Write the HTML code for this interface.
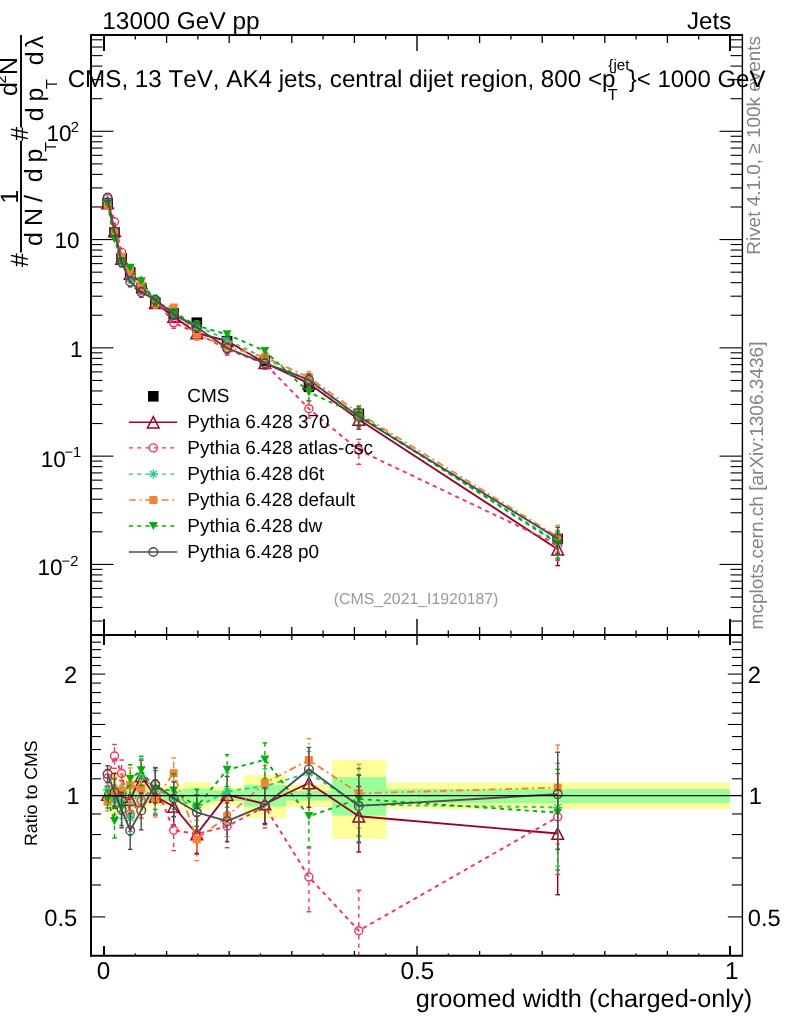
<!DOCTYPE html>
<html lang="en">
<head>
<meta charset="utf-8">
<title>CMS_2021_I1920187 groomed width (charged-only)</title>
<style>
html, body { margin: 0; padding: 0; background: #fff; }
body { width: 786px; height: 1024px; overflow: hidden; }
svg { display: block; font-family: "Liberation Sans", sans-serif; font-kerning: none; font-variant-ligatures: none; text-rendering: geometricPrecision; }
</style>
</head>
<body>
<svg width="786" height="1024" viewBox="0 0 786 1024">
<rect x="0" y="0" width="786" height="1024" fill="#fff"/>
<g id="bands">
<rect x="104.00" y="786.00" width="6.80" height="20.00" fill="#FFFF99"/>
<rect x="110.80" y="771.00" width="7.20" height="49.00" fill="#FFFF99"/>
<rect x="118.00" y="785.00" width="7.20" height="22.00" fill="#FFFF99"/>
<rect x="125.20" y="774.00" width="10.40" height="44.00" fill="#FFFF99"/>
<rect x="135.60" y="780.00" width="11.70" height="32.00" fill="#FFFF99"/>
<rect x="147.30" y="786.00" width="17.00" height="20.00" fill="#FFFF99"/>
<rect x="164.30" y="785.90" width="18.70" height="19.60" fill="#FFFF99"/>
<rect x="183.00" y="782.00" width="27.60" height="28.00" fill="#FFFF99"/>
<rect x="210.60" y="786.80" width="33.30" height="18.20" fill="#FFFF99"/>
<rect x="243.90" y="775.00" width="42.30" height="43.00" fill="#FFFF99"/>
<rect x="286.20" y="784.80" width="45.80" height="22.20" fill="#FFFF99"/>
<rect x="332.00" y="760.00" width="54.30" height="79.00" fill="#FFFF99"/>
<rect x="386.30" y="782.60" width="343.70" height="26.30" fill="#FFFF99"/>
<rect x="104.00" y="791.00" width="6.80" height="9.50" fill="#99FF99"/>
<rect x="110.80" y="784.00" width="7.20" height="24.00" fill="#99FF99"/>
<rect x="118.00" y="790.00" width="7.20" height="11.50" fill="#99FF99"/>
<rect x="125.20" y="785.00" width="10.40" height="22.00" fill="#99FF99"/>
<rect x="135.60" y="788.00" width="11.70" height="15.50" fill="#99FF99"/>
<rect x="147.30" y="791.00" width="17.00" height="9.50" fill="#99FF99"/>
<rect x="164.30" y="790.40" width="18.70" height="10.60" fill="#99FF99"/>
<rect x="183.00" y="788.60" width="27.60" height="14.20" fill="#99FF99"/>
<rect x="210.60" y="790.40" width="33.30" height="10.60" fill="#99FF99"/>
<rect x="243.90" y="784.80" width="42.30" height="21.80" fill="#99FF99"/>
<rect x="286.20" y="791.00" width="45.80" height="9.60" fill="#99FF99"/>
<rect x="332.00" y="777.20" width="54.30" height="38.50" fill="#99FF99"/>
<rect x="386.30" y="789.20" width="343.70" height="13.80" fill="#99FF99"/>
</g>
<g id="frame" stroke-linecap="butt">
<line x1="91.00" y1="34.00" x2="91.00" y2="956.80" stroke="#000" stroke-width="2" />
<line x1="90.00" y1="35.00" x2="743.10" y2="35.00" stroke="#000" stroke-width="2" />
<line x1="90.00" y1="955.80" x2="743.10" y2="955.80" stroke="#000" stroke-width="2" />
<line x1="742.40" y1="35.00" x2="742.40" y2="956.00" stroke="#000" stroke-width="1.4" />
<line x1="91.00" y1="635.00" x2="742.40" y2="635.00" stroke="#000" stroke-width="2" />
<line x1="104.00" y1="35.00" x2="104.00" y2="51.00" stroke="#000" stroke-width="2" />
<line x1="135.30" y1="35.00" x2="135.30" y2="39.50" stroke="#000" stroke-width="1.3" />
<line x1="166.60" y1="35.00" x2="166.60" y2="43.00" stroke="#000" stroke-width="1.3" />
<line x1="197.90" y1="35.00" x2="197.90" y2="39.50" stroke="#000" stroke-width="1.3" />
<line x1="229.20" y1="35.00" x2="229.20" y2="43.00" stroke="#000" stroke-width="1.3" />
<line x1="260.50" y1="35.00" x2="260.50" y2="39.50" stroke="#000" stroke-width="1.3" />
<line x1="291.80" y1="35.00" x2="291.80" y2="43.00" stroke="#000" stroke-width="1.3" />
<line x1="323.10" y1="35.00" x2="323.10" y2="39.50" stroke="#000" stroke-width="1.3" />
<line x1="354.40" y1="35.00" x2="354.40" y2="43.00" stroke="#000" stroke-width="1.3" />
<line x1="385.70" y1="35.00" x2="385.70" y2="39.50" stroke="#000" stroke-width="1.3" />
<line x1="417.00" y1="35.00" x2="417.00" y2="51.00" stroke="#000" stroke-width="1.4" />
<line x1="448.30" y1="35.00" x2="448.30" y2="39.50" stroke="#000" stroke-width="1.3" />
<line x1="479.60" y1="35.00" x2="479.60" y2="43.00" stroke="#000" stroke-width="1.3" />
<line x1="510.90" y1="35.00" x2="510.90" y2="39.50" stroke="#000" stroke-width="1.3" />
<line x1="542.20" y1="35.00" x2="542.20" y2="43.00" stroke="#000" stroke-width="1.3" />
<line x1="573.50" y1="35.00" x2="573.50" y2="39.50" stroke="#000" stroke-width="1.3" />
<line x1="604.80" y1="35.00" x2="604.80" y2="43.00" stroke="#000" stroke-width="1.3" />
<line x1="636.10" y1="35.00" x2="636.10" y2="39.50" stroke="#000" stroke-width="1.3" />
<line x1="667.40" y1="35.00" x2="667.40" y2="43.00" stroke="#000" stroke-width="1.3" />
<line x1="698.70" y1="35.00" x2="698.70" y2="39.50" stroke="#000" stroke-width="1.3" />
<line x1="730.00" y1="35.00" x2="730.00" y2="51.00" stroke="#000" stroke-width="2" />
<line x1="104.00" y1="635.00" x2="104.00" y2="619.00" stroke="#000" stroke-width="2" />
<line x1="135.30" y1="635.00" x2="135.30" y2="630.50" stroke="#000" stroke-width="1.3" />
<line x1="166.60" y1="635.00" x2="166.60" y2="627.00" stroke="#000" stroke-width="1.3" />
<line x1="197.90" y1="635.00" x2="197.90" y2="630.50" stroke="#000" stroke-width="1.3" />
<line x1="229.20" y1="635.00" x2="229.20" y2="627.00" stroke="#000" stroke-width="1.3" />
<line x1="260.50" y1="635.00" x2="260.50" y2="630.50" stroke="#000" stroke-width="1.3" />
<line x1="291.80" y1="635.00" x2="291.80" y2="627.00" stroke="#000" stroke-width="1.3" />
<line x1="323.10" y1="635.00" x2="323.10" y2="630.50" stroke="#000" stroke-width="1.3" />
<line x1="354.40" y1="635.00" x2="354.40" y2="627.00" stroke="#000" stroke-width="1.3" />
<line x1="385.70" y1="635.00" x2="385.70" y2="630.50" stroke="#000" stroke-width="1.3" />
<line x1="417.00" y1="635.00" x2="417.00" y2="619.00" stroke="#000" stroke-width="1.4" />
<line x1="448.30" y1="635.00" x2="448.30" y2="630.50" stroke="#000" stroke-width="1.3" />
<line x1="479.60" y1="635.00" x2="479.60" y2="627.00" stroke="#000" stroke-width="1.3" />
<line x1="510.90" y1="635.00" x2="510.90" y2="630.50" stroke="#000" stroke-width="1.3" />
<line x1="542.20" y1="635.00" x2="542.20" y2="627.00" stroke="#000" stroke-width="1.3" />
<line x1="573.50" y1="635.00" x2="573.50" y2="630.50" stroke="#000" stroke-width="1.3" />
<line x1="604.80" y1="635.00" x2="604.80" y2="627.00" stroke="#000" stroke-width="1.3" />
<line x1="636.10" y1="635.00" x2="636.10" y2="630.50" stroke="#000" stroke-width="1.3" />
<line x1="667.40" y1="635.00" x2="667.40" y2="627.00" stroke="#000" stroke-width="1.3" />
<line x1="698.70" y1="635.00" x2="698.70" y2="630.50" stroke="#000" stroke-width="1.3" />
<line x1="730.00" y1="635.00" x2="730.00" y2="619.00" stroke="#000" stroke-width="2" />
<line x1="104.00" y1="635.00" x2="104.00" y2="645.00" stroke="#000" stroke-width="2" />
<line x1="135.30" y1="635.00" x2="135.30" y2="637.50" stroke="#000" stroke-width="1.3" />
<line x1="166.60" y1="635.00" x2="166.60" y2="640.00" stroke="#000" stroke-width="1.3" />
<line x1="197.90" y1="635.00" x2="197.90" y2="637.50" stroke="#000" stroke-width="1.3" />
<line x1="229.20" y1="635.00" x2="229.20" y2="640.00" stroke="#000" stroke-width="1.3" />
<line x1="260.50" y1="635.00" x2="260.50" y2="637.50" stroke="#000" stroke-width="1.3" />
<line x1="291.80" y1="635.00" x2="291.80" y2="640.00" stroke="#000" stroke-width="1.3" />
<line x1="323.10" y1="635.00" x2="323.10" y2="637.50" stroke="#000" stroke-width="1.3" />
<line x1="354.40" y1="635.00" x2="354.40" y2="640.00" stroke="#000" stroke-width="1.3" />
<line x1="385.70" y1="635.00" x2="385.70" y2="637.50" stroke="#000" stroke-width="1.3" />
<line x1="417.00" y1="635.00" x2="417.00" y2="645.00" stroke="#000" stroke-width="1.4" />
<line x1="448.30" y1="635.00" x2="448.30" y2="637.50" stroke="#000" stroke-width="1.3" />
<line x1="479.60" y1="635.00" x2="479.60" y2="640.00" stroke="#000" stroke-width="1.3" />
<line x1="510.90" y1="635.00" x2="510.90" y2="637.50" stroke="#000" stroke-width="1.3" />
<line x1="542.20" y1="635.00" x2="542.20" y2="640.00" stroke="#000" stroke-width="1.3" />
<line x1="573.50" y1="635.00" x2="573.50" y2="637.50" stroke="#000" stroke-width="1.3" />
<line x1="604.80" y1="635.00" x2="604.80" y2="640.00" stroke="#000" stroke-width="1.3" />
<line x1="636.10" y1="635.00" x2="636.10" y2="637.50" stroke="#000" stroke-width="1.3" />
<line x1="667.40" y1="635.00" x2="667.40" y2="640.00" stroke="#000" stroke-width="1.3" />
<line x1="698.70" y1="635.00" x2="698.70" y2="637.50" stroke="#000" stroke-width="1.3" />
<line x1="730.00" y1="635.00" x2="730.00" y2="645.00" stroke="#000" stroke-width="2" />
<line x1="104.00" y1="956.00" x2="104.00" y2="946.00" stroke="#000" stroke-width="2" />
<line x1="135.30" y1="956.00" x2="135.30" y2="953.50" stroke="#000" stroke-width="1.3" />
<line x1="166.60" y1="956.00" x2="166.60" y2="951.00" stroke="#000" stroke-width="1.3" />
<line x1="197.90" y1="956.00" x2="197.90" y2="953.50" stroke="#000" stroke-width="1.3" />
<line x1="229.20" y1="956.00" x2="229.20" y2="951.00" stroke="#000" stroke-width="1.3" />
<line x1="260.50" y1="956.00" x2="260.50" y2="953.50" stroke="#000" stroke-width="1.3" />
<line x1="291.80" y1="956.00" x2="291.80" y2="951.00" stroke="#000" stroke-width="1.3" />
<line x1="323.10" y1="956.00" x2="323.10" y2="953.50" stroke="#000" stroke-width="1.3" />
<line x1="354.40" y1="956.00" x2="354.40" y2="951.00" stroke="#000" stroke-width="1.3" />
<line x1="385.70" y1="956.00" x2="385.70" y2="953.50" stroke="#000" stroke-width="1.3" />
<line x1="417.00" y1="956.00" x2="417.00" y2="946.00" stroke="#000" stroke-width="1.4" />
<line x1="448.30" y1="956.00" x2="448.30" y2="953.50" stroke="#000" stroke-width="1.3" />
<line x1="479.60" y1="956.00" x2="479.60" y2="951.00" stroke="#000" stroke-width="1.3" />
<line x1="510.90" y1="956.00" x2="510.90" y2="953.50" stroke="#000" stroke-width="1.3" />
<line x1="542.20" y1="956.00" x2="542.20" y2="951.00" stroke="#000" stroke-width="1.3" />
<line x1="573.50" y1="956.00" x2="573.50" y2="953.50" stroke="#000" stroke-width="1.3" />
<line x1="604.80" y1="956.00" x2="604.80" y2="951.00" stroke="#000" stroke-width="1.3" />
<line x1="636.10" y1="956.00" x2="636.10" y2="953.50" stroke="#000" stroke-width="1.3" />
<line x1="667.40" y1="956.00" x2="667.40" y2="951.00" stroke="#000" stroke-width="1.3" />
<line x1="698.70" y1="956.00" x2="698.70" y2="953.50" stroke="#000" stroke-width="1.3" />
<line x1="730.00" y1="956.00" x2="730.00" y2="946.00" stroke="#000" stroke-width="2" />
<line x1="91.00" y1="621.04" x2="102.50" y2="621.04" stroke="#000" stroke-width="1.1" />
<line x1="742.00" y1="621.04" x2="730.50" y2="621.04" stroke="#000" stroke-width="1.1" />
<line x1="91.00" y1="607.51" x2="102.50" y2="607.51" stroke="#000" stroke-width="1.1" />
<line x1="742.00" y1="607.51" x2="730.50" y2="607.51" stroke="#000" stroke-width="1.1" />
<line x1="91.00" y1="597.02" x2="102.50" y2="597.02" stroke="#000" stroke-width="1.1" />
<line x1="742.00" y1="597.02" x2="730.50" y2="597.02" stroke="#000" stroke-width="1.1" />
<line x1="91.00" y1="588.44" x2="102.50" y2="588.44" stroke="#000" stroke-width="1.1" />
<line x1="742.00" y1="588.44" x2="730.50" y2="588.44" stroke="#000" stroke-width="1.1" />
<line x1="91.00" y1="581.19" x2="102.50" y2="581.19" stroke="#000" stroke-width="1.1" />
<line x1="742.00" y1="581.19" x2="730.50" y2="581.19" stroke="#000" stroke-width="1.1" />
<line x1="91.00" y1="574.91" x2="102.50" y2="574.91" stroke="#000" stroke-width="1.1" />
<line x1="742.00" y1="574.91" x2="730.50" y2="574.91" stroke="#000" stroke-width="1.1" />
<line x1="91.00" y1="569.37" x2="102.50" y2="569.37" stroke="#000" stroke-width="1.1" />
<line x1="742.00" y1="569.37" x2="730.50" y2="569.37" stroke="#000" stroke-width="1.1" />
<line x1="91.00" y1="564.42" x2="113.50" y2="564.42" stroke="#000" stroke-width="1.1" />
<line x1="742.00" y1="564.42" x2="719.50" y2="564.42" stroke="#000" stroke-width="1.1" />
<line x1="91.00" y1="531.82" x2="102.50" y2="531.82" stroke="#000" stroke-width="1.1" />
<line x1="742.00" y1="531.82" x2="730.50" y2="531.82" stroke="#000" stroke-width="1.1" />
<line x1="91.00" y1="512.76" x2="102.50" y2="512.76" stroke="#000" stroke-width="1.1" />
<line x1="742.00" y1="512.76" x2="730.50" y2="512.76" stroke="#000" stroke-width="1.1" />
<line x1="91.00" y1="499.23" x2="102.50" y2="499.23" stroke="#000" stroke-width="1.1" />
<line x1="742.00" y1="499.23" x2="730.50" y2="499.23" stroke="#000" stroke-width="1.1" />
<line x1="91.00" y1="488.74" x2="102.50" y2="488.74" stroke="#000" stroke-width="1.1" />
<line x1="742.00" y1="488.74" x2="730.50" y2="488.74" stroke="#000" stroke-width="1.1" />
<line x1="91.00" y1="480.16" x2="102.50" y2="480.16" stroke="#000" stroke-width="1.1" />
<line x1="742.00" y1="480.16" x2="730.50" y2="480.16" stroke="#000" stroke-width="1.1" />
<line x1="91.00" y1="472.91" x2="102.50" y2="472.91" stroke="#000" stroke-width="1.1" />
<line x1="742.00" y1="472.91" x2="730.50" y2="472.91" stroke="#000" stroke-width="1.1" />
<line x1="91.00" y1="466.63" x2="102.50" y2="466.63" stroke="#000" stroke-width="1.1" />
<line x1="742.00" y1="466.63" x2="730.50" y2="466.63" stroke="#000" stroke-width="1.1" />
<line x1="91.00" y1="461.09" x2="102.50" y2="461.09" stroke="#000" stroke-width="1.1" />
<line x1="742.00" y1="461.09" x2="730.50" y2="461.09" stroke="#000" stroke-width="1.1" />
<line x1="91.00" y1="456.14" x2="113.50" y2="456.14" stroke="#000" stroke-width="1.1" />
<line x1="742.00" y1="456.14" x2="719.50" y2="456.14" stroke="#000" stroke-width="1.1" />
<line x1="91.00" y1="423.54" x2="102.50" y2="423.54" stroke="#000" stroke-width="1.1" />
<line x1="742.00" y1="423.54" x2="730.50" y2="423.54" stroke="#000" stroke-width="1.1" />
<line x1="91.00" y1="404.48" x2="102.50" y2="404.48" stroke="#000" stroke-width="1.1" />
<line x1="742.00" y1="404.48" x2="730.50" y2="404.48" stroke="#000" stroke-width="1.1" />
<line x1="91.00" y1="390.95" x2="102.50" y2="390.95" stroke="#000" stroke-width="1.1" />
<line x1="742.00" y1="390.95" x2="730.50" y2="390.95" stroke="#000" stroke-width="1.1" />
<line x1="91.00" y1="380.46" x2="102.50" y2="380.46" stroke="#000" stroke-width="1.1" />
<line x1="742.00" y1="380.46" x2="730.50" y2="380.46" stroke="#000" stroke-width="1.1" />
<line x1="91.00" y1="371.88" x2="102.50" y2="371.88" stroke="#000" stroke-width="1.1" />
<line x1="742.00" y1="371.88" x2="730.50" y2="371.88" stroke="#000" stroke-width="1.1" />
<line x1="91.00" y1="364.63" x2="102.50" y2="364.63" stroke="#000" stroke-width="1.1" />
<line x1="742.00" y1="364.63" x2="730.50" y2="364.63" stroke="#000" stroke-width="1.1" />
<line x1="91.00" y1="358.35" x2="102.50" y2="358.35" stroke="#000" stroke-width="1.1" />
<line x1="742.00" y1="358.35" x2="730.50" y2="358.35" stroke="#000" stroke-width="1.1" />
<line x1="91.00" y1="352.81" x2="102.50" y2="352.81" stroke="#000" stroke-width="1.1" />
<line x1="742.00" y1="352.81" x2="730.50" y2="352.81" stroke="#000" stroke-width="1.1" />
<line x1="91.00" y1="347.86" x2="113.50" y2="347.86" stroke="#000" stroke-width="1.1" />
<line x1="742.00" y1="347.86" x2="719.50" y2="347.86" stroke="#000" stroke-width="1.1" />
<line x1="91.00" y1="315.26" x2="102.50" y2="315.26" stroke="#000" stroke-width="1.1" />
<line x1="742.00" y1="315.26" x2="730.50" y2="315.26" stroke="#000" stroke-width="1.1" />
<line x1="91.00" y1="296.20" x2="102.50" y2="296.20" stroke="#000" stroke-width="1.1" />
<line x1="742.00" y1="296.20" x2="730.50" y2="296.20" stroke="#000" stroke-width="1.1" />
<line x1="91.00" y1="282.67" x2="102.50" y2="282.67" stroke="#000" stroke-width="1.1" />
<line x1="742.00" y1="282.67" x2="730.50" y2="282.67" stroke="#000" stroke-width="1.1" />
<line x1="91.00" y1="272.18" x2="102.50" y2="272.18" stroke="#000" stroke-width="1.1" />
<line x1="742.00" y1="272.18" x2="730.50" y2="272.18" stroke="#000" stroke-width="1.1" />
<line x1="91.00" y1="263.60" x2="102.50" y2="263.60" stroke="#000" stroke-width="1.1" />
<line x1="742.00" y1="263.60" x2="730.50" y2="263.60" stroke="#000" stroke-width="1.1" />
<line x1="91.00" y1="256.35" x2="102.50" y2="256.35" stroke="#000" stroke-width="1.1" />
<line x1="742.00" y1="256.35" x2="730.50" y2="256.35" stroke="#000" stroke-width="1.1" />
<line x1="91.00" y1="250.07" x2="102.50" y2="250.07" stroke="#000" stroke-width="1.1" />
<line x1="742.00" y1="250.07" x2="730.50" y2="250.07" stroke="#000" stroke-width="1.1" />
<line x1="91.00" y1="244.53" x2="102.50" y2="244.53" stroke="#000" stroke-width="1.1" />
<line x1="742.00" y1="244.53" x2="730.50" y2="244.53" stroke="#000" stroke-width="1.1" />
<line x1="91.00" y1="239.58" x2="113.50" y2="239.58" stroke="#000" stroke-width="1.1" />
<line x1="742.00" y1="239.58" x2="719.50" y2="239.58" stroke="#000" stroke-width="1.1" />
<line x1="91.00" y1="206.98" x2="102.50" y2="206.98" stroke="#000" stroke-width="1.1" />
<line x1="742.00" y1="206.98" x2="730.50" y2="206.98" stroke="#000" stroke-width="1.1" />
<line x1="91.00" y1="187.92" x2="102.50" y2="187.92" stroke="#000" stroke-width="1.1" />
<line x1="742.00" y1="187.92" x2="730.50" y2="187.92" stroke="#000" stroke-width="1.1" />
<line x1="91.00" y1="174.39" x2="102.50" y2="174.39" stroke="#000" stroke-width="1.1" />
<line x1="742.00" y1="174.39" x2="730.50" y2="174.39" stroke="#000" stroke-width="1.1" />
<line x1="91.00" y1="163.90" x2="102.50" y2="163.90" stroke="#000" stroke-width="1.1" />
<line x1="742.00" y1="163.90" x2="730.50" y2="163.90" stroke="#000" stroke-width="1.1" />
<line x1="91.00" y1="155.32" x2="102.50" y2="155.32" stroke="#000" stroke-width="1.1" />
<line x1="742.00" y1="155.32" x2="730.50" y2="155.32" stroke="#000" stroke-width="1.1" />
<line x1="91.00" y1="148.07" x2="102.50" y2="148.07" stroke="#000" stroke-width="1.1" />
<line x1="742.00" y1="148.07" x2="730.50" y2="148.07" stroke="#000" stroke-width="1.1" />
<line x1="91.00" y1="141.79" x2="102.50" y2="141.79" stroke="#000" stroke-width="1.1" />
<line x1="742.00" y1="141.79" x2="730.50" y2="141.79" stroke="#000" stroke-width="1.1" />
<line x1="91.00" y1="136.25" x2="102.50" y2="136.25" stroke="#000" stroke-width="1.1" />
<line x1="742.00" y1="136.25" x2="730.50" y2="136.25" stroke="#000" stroke-width="1.1" />
<line x1="91.00" y1="131.30" x2="113.50" y2="131.30" stroke="#000" stroke-width="1.1" />
<line x1="742.00" y1="131.30" x2="719.50" y2="131.30" stroke="#000" stroke-width="1.1" />
<line x1="91.00" y1="98.70" x2="102.50" y2="98.70" stroke="#000" stroke-width="1.1" />
<line x1="742.00" y1="98.70" x2="730.50" y2="98.70" stroke="#000" stroke-width="1.1" />
<line x1="91.00" y1="79.64" x2="102.50" y2="79.64" stroke="#000" stroke-width="1.1" />
<line x1="742.00" y1="79.64" x2="730.50" y2="79.64" stroke="#000" stroke-width="1.1" />
<line x1="91.00" y1="66.11" x2="102.50" y2="66.11" stroke="#000" stroke-width="1.1" />
<line x1="742.00" y1="66.11" x2="730.50" y2="66.11" stroke="#000" stroke-width="1.1" />
<line x1="91.00" y1="55.62" x2="102.50" y2="55.62" stroke="#000" stroke-width="1.1" />
<line x1="742.00" y1="55.62" x2="730.50" y2="55.62" stroke="#000" stroke-width="1.1" />
<line x1="91.00" y1="47.04" x2="102.50" y2="47.04" stroke="#000" stroke-width="1.1" />
<line x1="742.00" y1="47.04" x2="730.50" y2="47.04" stroke="#000" stroke-width="1.1" />
<line x1="91.00" y1="39.79" x2="102.50" y2="39.79" stroke="#000" stroke-width="1.1" />
<line x1="742.00" y1="39.79" x2="730.50" y2="39.79" stroke="#000" stroke-width="1.1" />
<line x1="91.00" y1="916.91" x2="105.20" y2="916.91" stroke="#000" stroke-width="1.1" />
<line x1="742.00" y1="916.91" x2="727.80" y2="916.91" stroke="#000" stroke-width="1.1" />
<line x1="91.00" y1="884.97" x2="101.00" y2="884.97" stroke="#000" stroke-width="1.1" />
<line x1="742.00" y1="884.97" x2="732.00" y2="884.97" stroke="#000" stroke-width="1.1" />
<line x1="91.00" y1="857.97" x2="101.00" y2="857.97" stroke="#000" stroke-width="1.1" />
<line x1="742.00" y1="857.97" x2="732.00" y2="857.97" stroke="#000" stroke-width="1.1" />
<line x1="91.00" y1="834.58" x2="101.00" y2="834.58" stroke="#000" stroke-width="1.1" />
<line x1="742.00" y1="834.58" x2="732.00" y2="834.58" stroke="#000" stroke-width="1.1" />
<line x1="91.00" y1="813.95" x2="101.00" y2="813.95" stroke="#000" stroke-width="1.1" />
<line x1="742.00" y1="813.95" x2="732.00" y2="813.95" stroke="#000" stroke-width="1.1" />
<line x1="91.00" y1="795.50" x2="105.20" y2="795.50" stroke="#000" stroke-width="1.1" />
<line x1="742.00" y1="795.50" x2="727.80" y2="795.50" stroke="#000" stroke-width="1.1" />
<line x1="91.00" y1="778.81" x2="101.00" y2="778.81" stroke="#000" stroke-width="1.1" />
<line x1="742.00" y1="778.81" x2="732.00" y2="778.81" stroke="#000" stroke-width="1.1" />
<line x1="91.00" y1="763.57" x2="101.00" y2="763.57" stroke="#000" stroke-width="1.1" />
<line x1="742.00" y1="763.57" x2="732.00" y2="763.57" stroke="#000" stroke-width="1.1" />
<line x1="91.00" y1="749.55" x2="101.00" y2="749.55" stroke="#000" stroke-width="1.1" />
<line x1="742.00" y1="749.55" x2="732.00" y2="749.55" stroke="#000" stroke-width="1.1" />
<line x1="91.00" y1="736.57" x2="101.00" y2="736.57" stroke="#000" stroke-width="1.1" />
<line x1="742.00" y1="736.57" x2="732.00" y2="736.57" stroke="#000" stroke-width="1.1" />
<line x1="91.00" y1="724.48" x2="105.20" y2="724.48" stroke="#000" stroke-width="1.1" />
<line x1="742.00" y1="724.48" x2="727.80" y2="724.48" stroke="#000" stroke-width="1.1" />
<line x1="91.00" y1="713.18" x2="101.00" y2="713.18" stroke="#000" stroke-width="1.1" />
<line x1="742.00" y1="713.18" x2="732.00" y2="713.18" stroke="#000" stroke-width="1.1" />
<line x1="91.00" y1="702.56" x2="101.00" y2="702.56" stroke="#000" stroke-width="1.1" />
<line x1="742.00" y1="702.56" x2="732.00" y2="702.56" stroke="#000" stroke-width="1.1" />
<line x1="91.00" y1="692.55" x2="101.00" y2="692.55" stroke="#000" stroke-width="1.1" />
<line x1="742.00" y1="692.55" x2="732.00" y2="692.55" stroke="#000" stroke-width="1.1" />
<line x1="91.00" y1="683.08" x2="101.00" y2="683.08" stroke="#000" stroke-width="1.1" />
<line x1="742.00" y1="683.08" x2="732.00" y2="683.08" stroke="#000" stroke-width="1.1" />
<line x1="91.00" y1="674.09" x2="105.20" y2="674.09" stroke="#000" stroke-width="1.1" />
<line x1="742.00" y1="674.09" x2="727.80" y2="674.09" stroke="#000" stroke-width="1.1" />
<line x1="91.00" y1="665.55" x2="101.00" y2="665.55" stroke="#000" stroke-width="1.1" />
<line x1="742.00" y1="665.55" x2="732.00" y2="665.55" stroke="#000" stroke-width="1.1" />
<line x1="91.00" y1="657.40" x2="101.00" y2="657.40" stroke="#000" stroke-width="1.1" />
<line x1="742.00" y1="657.40" x2="732.00" y2="657.40" stroke="#000" stroke-width="1.1" />
<line x1="91.00" y1="649.62" x2="101.00" y2="649.62" stroke="#000" stroke-width="1.1" />
<line x1="742.00" y1="649.62" x2="732.00" y2="649.62" stroke="#000" stroke-width="1.1" />
<line x1="91.00" y1="642.16" x2="101.00" y2="642.16" stroke="#000" stroke-width="1.1" />
<line x1="742.00" y1="642.16" x2="732.00" y2="642.16" stroke="#000" stroke-width="1.1" />
</g>
<g id="series">
<rect x="102.30" y="197.90" width="10.6" height="10.6" fill="#000"/>
<rect x="109.20" y="227.10" width="10.6" height="10.6" fill="#000"/>
<rect x="116.30" y="253.00" width="10.6" height="10.6" fill="#000"/>
<rect x="124.90" y="267.10" width="10.6" height="10.6" fill="#000"/>
<rect x="135.90" y="282.80" width="10.6" height="10.6" fill="#000"/>
<rect x="150.00" y="297.30" width="10.6" height="10.6" fill="#000"/>
<rect x="168.40" y="308.20" width="10.6" height="10.6" fill="#000"/>
<rect x="191.50" y="317.40" width="10.6" height="10.6" fill="#000"/>
<rect x="221.80" y="335.90" width="10.6" height="10.6" fill="#000"/>
<rect x="259.60" y="355.30" width="10.6" height="10.6" fill="#000"/>
<rect x="303.60" y="381.50" width="10.6" height="10.6" fill="#000"/>
<rect x="353.50" y="408.60" width="10.6" height="10.6" fill="#000"/>
<rect x="552.40" y="533.70" width="10.6" height="10.6" fill="#000"/>
<path d="M107.60 202.93 L114.50 230.92 L121.60 258.57 L130.20 273.50 L141.20 282.86 L155.30 302.87 L173.70 316.45 L196.80 333.04 L227.10 341.01 L264.90 362.88 L308.90 383.44 L358.80 419.46 L557.70 549.20" fill="none" stroke="#9C0026" stroke-width="1.9" stroke-linejoin="round"/>
<line x1="114.50" y1="235.52" x2="114.50" y2="235.88" stroke="#9C0026" stroke-width="1.4"/>
<line x1="112.20" y1="235.88" x2="116.80" y2="235.88" stroke="#9C0026" stroke-width="1.4"/>
<line x1="121.60" y1="263.17" x2="121.60" y2="263.26" stroke="#9C0026" stroke-width="1.4"/>
<line x1="119.30" y1="263.26" x2="123.90" y2="263.26" stroke="#9C0026" stroke-width="1.4"/>
<line x1="130.20" y1="278.10" x2="130.20" y2="278.20" stroke="#9C0026" stroke-width="1.4"/>
<line x1="127.90" y1="278.20" x2="132.50" y2="278.20" stroke="#9C0026" stroke-width="1.4"/>
<line x1="141.20" y1="287.46" x2="141.20" y2="287.56" stroke="#9C0026" stroke-width="1.4"/>
<line x1="138.90" y1="287.56" x2="143.50" y2="287.56" stroke="#9C0026" stroke-width="1.4"/>
<line x1="155.30" y1="307.47" x2="155.30" y2="307.82" stroke="#9C0026" stroke-width="1.4"/>
<line x1="153.00" y1="307.82" x2="157.60" y2="307.82" stroke="#9C0026" stroke-width="1.4"/>
<line x1="173.70" y1="321.05" x2="173.70" y2="321.41" stroke="#9C0026" stroke-width="1.4"/>
<line x1="171.40" y1="321.41" x2="176.00" y2="321.41" stroke="#9C0026" stroke-width="1.4"/>
<line x1="196.80" y1="328.44" x2="196.80" y2="328.34" stroke="#9C0026" stroke-width="1.4"/>
<line x1="194.50" y1="328.34" x2="199.10" y2="328.34" stroke="#9C0026" stroke-width="1.4"/>
<line x1="196.80" y1="337.64" x2="196.80" y2="338.26" stroke="#9C0026" stroke-width="1.4"/>
<line x1="194.50" y1="338.26" x2="199.10" y2="338.26" stroke="#9C0026" stroke-width="1.4"/>
<line x1="227.10" y1="336.41" x2="227.10" y2="336.10" stroke="#9C0026" stroke-width="1.4"/>
<line x1="224.80" y1="336.10" x2="229.40" y2="336.10" stroke="#9C0026" stroke-width="1.4"/>
<line x1="227.10" y1="345.61" x2="227.10" y2="346.49" stroke="#9C0026" stroke-width="1.4"/>
<line x1="224.80" y1="346.49" x2="229.40" y2="346.49" stroke="#9C0026" stroke-width="1.4"/>
<line x1="264.90" y1="358.28" x2="264.90" y2="358.19" stroke="#9C0026" stroke-width="1.4"/>
<line x1="262.60" y1="358.19" x2="267.20" y2="358.19" stroke="#9C0026" stroke-width="1.4"/>
<line x1="264.90" y1="367.48" x2="264.90" y2="368.10" stroke="#9C0026" stroke-width="1.4"/>
<line x1="262.60" y1="368.10" x2="267.20" y2="368.10" stroke="#9C0026" stroke-width="1.4"/>
<line x1="308.90" y1="378.84" x2="308.90" y2="377.69" stroke="#9C0026" stroke-width="1.4"/>
<line x1="306.60" y1="377.69" x2="311.20" y2="377.69" stroke="#9C0026" stroke-width="1.4"/>
<line x1="308.90" y1="388.04" x2="308.90" y2="389.99" stroke="#9C0026" stroke-width="1.4"/>
<line x1="306.60" y1="389.99" x2="311.20" y2="389.99" stroke="#9C0026" stroke-width="1.4"/>
<line x1="358.80" y1="414.86" x2="358.80" y2="411.47" stroke="#9C0026" stroke-width="1.4"/>
<line x1="356.50" y1="411.47" x2="361.10" y2="411.47" stroke="#9C0026" stroke-width="1.4"/>
<line x1="358.80" y1="424.06" x2="358.80" y2="429.08" stroke="#9C0026" stroke-width="1.4"/>
<line x1="356.50" y1="429.08" x2="361.10" y2="429.08" stroke="#9C0026" stroke-width="1.4"/>
<line x1="557.70" y1="544.60" x2="557.70" y2="537.05" stroke="#9C0026" stroke-width="1.4"/>
<line x1="555.40" y1="537.05" x2="560.00" y2="537.05" stroke="#9C0026" stroke-width="1.4"/>
<line x1="557.70" y1="553.80" x2="557.70" y2="565.65" stroke="#9C0026" stroke-width="1.4"/>
<line x1="555.40" y1="565.65" x2="560.00" y2="565.65" stroke="#9C0026" stroke-width="1.4"/>
<path d="M101.80 208.63 L113.40 208.63 L107.60 197.23 Z" fill="none" stroke="#9C0026" stroke-width="1.5" stroke-linejoin="miter"/>
<path d="M108.70 236.62 L120.30 236.62 L114.50 225.22 Z" fill="none" stroke="#9C0026" stroke-width="1.5" stroke-linejoin="miter"/>
<path d="M115.80 264.27 L127.40 264.27 L121.60 252.87 Z" fill="none" stroke="#9C0026" stroke-width="1.5" stroke-linejoin="miter"/>
<path d="M124.40 279.20 L136.00 279.20 L130.20 267.80 Z" fill="none" stroke="#9C0026" stroke-width="1.5" stroke-linejoin="miter"/>
<path d="M135.40 288.56 L147.00 288.56 L141.20 277.16 Z" fill="none" stroke="#9C0026" stroke-width="1.5" stroke-linejoin="miter"/>
<path d="M149.50 308.57 L161.10 308.57 L155.30 297.17 Z" fill="none" stroke="#9C0026" stroke-width="1.5" stroke-linejoin="miter"/>
<path d="M167.90 322.15 L179.50 322.15 L173.70 310.75 Z" fill="none" stroke="#9C0026" stroke-width="1.5" stroke-linejoin="miter"/>
<path d="M191.00 338.74 L202.60 338.74 L196.80 327.34 Z" fill="none" stroke="#9C0026" stroke-width="1.5" stroke-linejoin="miter"/>
<path d="M221.30 346.71 L232.90 346.71 L227.10 335.31 Z" fill="none" stroke="#9C0026" stroke-width="1.5" stroke-linejoin="miter"/>
<path d="M259.10 368.58 L270.70 368.58 L264.90 357.18 Z" fill="none" stroke="#9C0026" stroke-width="1.5" stroke-linejoin="miter"/>
<path d="M303.10 389.14 L314.70 389.14 L308.90 377.74 Z" fill="none" stroke="#9C0026" stroke-width="1.5" stroke-linejoin="miter"/>
<path d="M353.00 425.16 L364.60 425.16 L358.80 413.76 Z" fill="none" stroke="#9C0026" stroke-width="1.5" stroke-linejoin="miter"/>
<path d="M551.90 554.90 L563.50 554.90 L557.70 543.50 Z" fill="none" stroke="#9C0026" stroke-width="1.5" stroke-linejoin="miter"/>
<path d="M107.60 198.50 L114.50 221.79 L121.60 252.39 L130.20 277.37 L141.20 289.47 L155.30 299.57 L173.70 322.82 L196.80 333.04 L227.10 349.47 L264.90 363.55 L308.90 408.69 L358.80 450.21 L557.70 544.77" fill="none" stroke="#FF2E5E" stroke-width="1.9" stroke-dasharray="4.15 4.13" stroke-linejoin="round"/>
<line x1="130.20" y1="281.97" x2="130.20" y2="282.06" stroke="#FF2E5E" stroke-width="1.4" stroke-dasharray="4.15 4.13"/>
<line x1="127.90" y1="282.06" x2="132.50" y2="282.06" stroke="#FF2E5E" stroke-width="1.4"/>
<line x1="141.20" y1="294.07" x2="141.20" y2="294.16" stroke="#FF2E5E" stroke-width="1.4" stroke-dasharray="4.15 4.13"/>
<line x1="138.90" y1="294.16" x2="143.50" y2="294.16" stroke="#FF2E5E" stroke-width="1.4"/>
<line x1="155.30" y1="304.17" x2="155.30" y2="304.52" stroke="#FF2E5E" stroke-width="1.4" stroke-dasharray="4.15 4.13"/>
<line x1="153.00" y1="304.52" x2="157.60" y2="304.52" stroke="#FF2E5E" stroke-width="1.4"/>
<line x1="173.70" y1="318.22" x2="173.70" y2="317.91" stroke="#FF2E5E" stroke-width="1.4" stroke-dasharray="4.15 4.13"/>
<line x1="171.40" y1="317.91" x2="176.00" y2="317.91" stroke="#FF2E5E" stroke-width="1.4"/>
<line x1="173.70" y1="327.42" x2="173.70" y2="328.30" stroke="#FF2E5E" stroke-width="1.4" stroke-dasharray="4.15 4.13"/>
<line x1="171.40" y1="328.30" x2="176.00" y2="328.30" stroke="#FF2E5E" stroke-width="1.4"/>
<line x1="196.80" y1="328.44" x2="196.80" y2="328.13" stroke="#FF2E5E" stroke-width="1.4" stroke-dasharray="4.15 4.13"/>
<line x1="194.50" y1="328.13" x2="199.10" y2="328.13" stroke="#FF2E5E" stroke-width="1.4"/>
<line x1="196.80" y1="337.64" x2="196.80" y2="338.52" stroke="#FF2E5E" stroke-width="1.4" stroke-dasharray="4.15 4.13"/>
<line x1="194.50" y1="338.52" x2="199.10" y2="338.52" stroke="#FF2E5E" stroke-width="1.4"/>
<line x1="227.10" y1="344.87" x2="227.10" y2="344.35" stroke="#FF2E5E" stroke-width="1.4" stroke-dasharray="4.15 4.13"/>
<line x1="224.80" y1="344.35" x2="229.40" y2="344.35" stroke="#FF2E5E" stroke-width="1.4"/>
<line x1="227.10" y1="354.07" x2="227.10" y2="355.22" stroke="#FF2E5E" stroke-width="1.4" stroke-dasharray="4.15 4.13"/>
<line x1="224.80" y1="355.22" x2="229.40" y2="355.22" stroke="#FF2E5E" stroke-width="1.4"/>
<line x1="264.90" y1="358.95" x2="264.90" y2="358.43" stroke="#FF2E5E" stroke-width="1.4" stroke-dasharray="4.15 4.13"/>
<line x1="262.60" y1="358.43" x2="267.20" y2="358.43" stroke="#FF2E5E" stroke-width="1.4"/>
<line x1="264.90" y1="368.15" x2="264.90" y2="369.30" stroke="#FF2E5E" stroke-width="1.4" stroke-dasharray="4.15 4.13"/>
<line x1="262.60" y1="369.30" x2="267.20" y2="369.30" stroke="#FF2E5E" stroke-width="1.4"/>
<line x1="308.90" y1="404.09" x2="308.90" y2="400.90" stroke="#FF2E5E" stroke-width="1.4" stroke-dasharray="4.15 4.13"/>
<line x1="306.60" y1="400.90" x2="311.20" y2="400.90" stroke="#FF2E5E" stroke-width="1.4"/>
<line x1="308.90" y1="413.29" x2="308.90" y2="418.02" stroke="#FF2E5E" stroke-width="1.4" stroke-dasharray="4.15 4.13"/>
<line x1="306.60" y1="418.02" x2="311.20" y2="418.02" stroke="#FF2E5E" stroke-width="1.4"/>
<line x1="358.80" y1="445.61" x2="358.80" y2="439.34" stroke="#FF2E5E" stroke-width="1.4" stroke-dasharray="4.15 4.13"/>
<line x1="356.50" y1="439.34" x2="361.10" y2="439.34" stroke="#FF2E5E" stroke-width="1.4"/>
<line x1="358.80" y1="454.81" x2="358.80" y2="464.37" stroke="#FF2E5E" stroke-width="1.4" stroke-dasharray="4.15 4.13"/>
<line x1="356.50" y1="464.37" x2="361.10" y2="464.37" stroke="#FF2E5E" stroke-width="1.4"/>
<line x1="557.70" y1="540.17" x2="557.70" y2="533.16" stroke="#FF2E5E" stroke-width="1.4" stroke-dasharray="4.15 4.13"/>
<line x1="555.40" y1="533.16" x2="560.00" y2="533.16" stroke="#FF2E5E" stroke-width="1.4"/>
<line x1="557.70" y1="549.37" x2="557.70" y2="560.22" stroke="#FF2E5E" stroke-width="1.4" stroke-dasharray="4.15 4.13"/>
<line x1="555.40" y1="560.22" x2="560.00" y2="560.22" stroke="#FF2E5E" stroke-width="1.4"/>
<circle cx="107.60" cy="198.50" r="4.0" fill="none" stroke="#FF2E5E" stroke-width="1.4"/>
<circle cx="114.50" cy="221.79" r="4.0" fill="none" stroke="#FF2E5E" stroke-width="1.4"/>
<circle cx="121.60" cy="252.39" r="4.0" fill="none" stroke="#FF2E5E" stroke-width="1.4"/>
<circle cx="130.20" cy="277.37" r="4.0" fill="none" stroke="#FF2E5E" stroke-width="1.4"/>
<circle cx="141.20" cy="289.47" r="4.0" fill="none" stroke="#FF2E5E" stroke-width="1.4"/>
<circle cx="155.30" cy="299.57" r="4.0" fill="none" stroke="#FF2E5E" stroke-width="1.4"/>
<circle cx="173.70" cy="322.82" r="4.0" fill="none" stroke="#FF2E5E" stroke-width="1.4"/>
<circle cx="196.80" cy="333.04" r="4.0" fill="none" stroke="#FF2E5E" stroke-width="1.4"/>
<circle cx="227.10" cy="349.47" r="4.0" fill="none" stroke="#FF2E5E" stroke-width="1.4"/>
<circle cx="264.90" cy="363.55" r="4.0" fill="none" stroke="#FF2E5E" stroke-width="1.4"/>
<circle cx="308.90" cy="408.69" r="4.0" fill="none" stroke="#FF2E5E" stroke-width="1.4"/>
<circle cx="358.80" cy="450.21" r="4.0" fill="none" stroke="#FF2E5E" stroke-width="1.4"/>
<circle cx="557.70" cy="544.77" r="4.0" fill="none" stroke="#FF2E5E" stroke-width="1.4"/>
<path d="M107.60 201.72 L114.50 233.61 L121.60 259.78 L130.20 278.44 L141.20 282.86 L155.30 300.85 L173.70 314.17 L196.80 325.87 L227.10 340.05 L264.90 358.10 L308.90 380.76 L358.80 416.37 L557.70 542.17" fill="none" stroke="#22CC88" stroke-width="1.9" stroke-dasharray="4.15 4.13" stroke-linejoin="round"/>
<line x1="121.60" y1="264.38" x2="121.60" y2="264.47" stroke="#22CC88" stroke-width="1.4" stroke-dasharray="4.15 4.13"/>
<line x1="119.30" y1="264.47" x2="123.90" y2="264.47" stroke="#22CC88" stroke-width="1.4"/>
<line x1="130.20" y1="283.04" x2="130.20" y2="283.14" stroke="#22CC88" stroke-width="1.4" stroke-dasharray="4.15 4.13"/>
<line x1="127.90" y1="283.14" x2="132.50" y2="283.14" stroke="#22CC88" stroke-width="1.4"/>
<line x1="141.20" y1="278.26" x2="141.20" y2="278.21" stroke="#22CC88" stroke-width="1.4" stroke-dasharray="4.15 4.13"/>
<line x1="138.90" y1="278.21" x2="143.50" y2="278.21" stroke="#22CC88" stroke-width="1.4"/>
<line x1="141.20" y1="287.46" x2="141.20" y2="288.03" stroke="#22CC88" stroke-width="1.4" stroke-dasharray="4.15 4.13"/>
<line x1="138.90" y1="288.03" x2="143.50" y2="288.03" stroke="#22CC88" stroke-width="1.4"/>
<line x1="155.30" y1="296.25" x2="155.30" y2="295.11" stroke="#22CC88" stroke-width="1.4" stroke-dasharray="4.15 4.13"/>
<line x1="153.00" y1="295.11" x2="157.60" y2="295.11" stroke="#22CC88" stroke-width="1.4"/>
<line x1="155.30" y1="305.45" x2="155.30" y2="307.40" stroke="#22CC88" stroke-width="1.4" stroke-dasharray="4.15 4.13"/>
<line x1="153.00" y1="307.40" x2="157.60" y2="307.40" stroke="#22CC88" stroke-width="1.4"/>
<line x1="173.70" y1="318.77" x2="173.70" y2="319.13" stroke="#22CC88" stroke-width="1.4" stroke-dasharray="4.15 4.13"/>
<line x1="171.40" y1="319.13" x2="176.00" y2="319.13" stroke="#22CC88" stroke-width="1.4"/>
<line x1="196.80" y1="321.27" x2="196.80" y2="321.17" stroke="#22CC88" stroke-width="1.4" stroke-dasharray="4.15 4.13"/>
<line x1="194.50" y1="321.17" x2="199.10" y2="321.17" stroke="#22CC88" stroke-width="1.4"/>
<line x1="196.80" y1="330.47" x2="196.80" y2="331.09" stroke="#22CC88" stroke-width="1.4" stroke-dasharray="4.15 4.13"/>
<line x1="194.50" y1="331.09" x2="199.10" y2="331.09" stroke="#22CC88" stroke-width="1.4"/>
<line x1="227.10" y1="335.45" x2="227.10" y2="335.14" stroke="#22CC88" stroke-width="1.4" stroke-dasharray="4.15 4.13"/>
<line x1="224.80" y1="335.14" x2="229.40" y2="335.14" stroke="#22CC88" stroke-width="1.4"/>
<line x1="227.10" y1="344.65" x2="227.10" y2="345.53" stroke="#22CC88" stroke-width="1.4" stroke-dasharray="4.15 4.13"/>
<line x1="224.80" y1="345.53" x2="229.40" y2="345.53" stroke="#22CC88" stroke-width="1.4"/>
<line x1="264.90" y1="353.50" x2="264.90" y2="353.41" stroke="#22CC88" stroke-width="1.4" stroke-dasharray="4.15 4.13"/>
<line x1="262.60" y1="353.41" x2="267.20" y2="353.41" stroke="#22CC88" stroke-width="1.4"/>
<line x1="264.90" y1="362.70" x2="264.90" y2="363.32" stroke="#22CC88" stroke-width="1.4" stroke-dasharray="4.15 4.13"/>
<line x1="262.60" y1="363.32" x2="267.20" y2="363.32" stroke="#22CC88" stroke-width="1.4"/>
<line x1="308.90" y1="376.16" x2="308.90" y2="375.01" stroke="#22CC88" stroke-width="1.4" stroke-dasharray="4.15 4.13"/>
<line x1="306.60" y1="375.01" x2="311.20" y2="375.01" stroke="#22CC88" stroke-width="1.4"/>
<line x1="308.90" y1="385.36" x2="308.90" y2="387.31" stroke="#22CC88" stroke-width="1.4" stroke-dasharray="4.15 4.13"/>
<line x1="306.60" y1="387.31" x2="311.20" y2="387.31" stroke="#22CC88" stroke-width="1.4"/>
<line x1="358.80" y1="411.77" x2="358.80" y2="408.19" stroke="#22CC88" stroke-width="1.4" stroke-dasharray="4.15 4.13"/>
<line x1="356.50" y1="408.19" x2="361.10" y2="408.19" stroke="#22CC88" stroke-width="1.4"/>
<line x1="358.80" y1="420.97" x2="358.80" y2="426.28" stroke="#22CC88" stroke-width="1.4" stroke-dasharray="4.15 4.13"/>
<line x1="356.50" y1="426.28" x2="361.10" y2="426.28" stroke="#22CC88" stroke-width="1.4"/>
<line x1="557.70" y1="537.57" x2="557.70" y2="530.37" stroke="#22CC88" stroke-width="1.4" stroke-dasharray="4.15 4.13"/>
<line x1="555.40" y1="530.37" x2="560.00" y2="530.37" stroke="#22CC88" stroke-width="1.4"/>
<line x1="557.70" y1="546.77" x2="557.70" y2="557.95" stroke="#22CC88" stroke-width="1.4" stroke-dasharray="4.15 4.13"/>
<line x1="555.40" y1="557.95" x2="560.00" y2="557.95" stroke="#22CC88" stroke-width="1.4"/>
<path d="M103.00 201.72H112.20M107.60 197.12V206.32M104.30 198.42L110.90 205.02M104.30 205.02L110.90 198.42" fill="none" stroke="#22CC88" stroke-width="1.3"/>
<path d="M109.90 233.61H119.10M114.50 229.01V238.21M111.20 230.31L117.80 236.91M111.20 236.91L117.80 230.31" fill="none" stroke="#22CC88" stroke-width="1.3"/>
<path d="M117.00 259.78H126.20M121.60 255.18V264.38M118.30 256.48L124.90 263.08M118.30 263.08L124.90 256.48" fill="none" stroke="#22CC88" stroke-width="1.3"/>
<path d="M125.60 278.44H134.80M130.20 273.84V283.04M126.90 275.14L133.50 281.74M126.90 281.74L133.50 275.14" fill="none" stroke="#22CC88" stroke-width="1.3"/>
<path d="M136.60 282.86H145.80M141.20 278.26V287.46M137.90 279.56L144.50 286.16M137.90 286.16L144.50 279.56" fill="none" stroke="#22CC88" stroke-width="1.3"/>
<path d="M150.70 300.85H159.90M155.30 296.25V305.45M152.00 297.55L158.60 304.15M152.00 304.15L158.60 297.55" fill="none" stroke="#22CC88" stroke-width="1.3"/>
<path d="M169.10 314.17H178.30M173.70 309.57V318.77M170.40 310.87L177.00 317.47M170.40 317.47L177.00 310.87" fill="none" stroke="#22CC88" stroke-width="1.3"/>
<path d="M192.20 325.87H201.40M196.80 321.27V330.47M193.50 322.57L200.10 329.17M193.50 329.17L200.10 322.57" fill="none" stroke="#22CC88" stroke-width="1.3"/>
<path d="M222.50 340.05H231.70M227.10 335.45V344.65M223.80 336.75L230.40 343.35M223.80 343.35L230.40 336.75" fill="none" stroke="#22CC88" stroke-width="1.3"/>
<path d="M260.30 358.10H269.50M264.90 353.50V362.70M261.60 354.80L268.20 361.40M261.60 361.40L268.20 354.80" fill="none" stroke="#22CC88" stroke-width="1.3"/>
<path d="M304.30 380.76H313.50M308.90 376.16V385.36M305.60 377.46L312.20 384.06M305.60 384.06L312.20 377.46" fill="none" stroke="#22CC88" stroke-width="1.3"/>
<path d="M354.20 416.37H363.40M358.80 411.77V420.97M355.50 413.07L362.10 419.67M355.50 419.67L362.10 413.07" fill="none" stroke="#22CC88" stroke-width="1.3"/>
<path d="M553.10 542.17H562.30M557.70 537.57V546.77M554.40 538.87L561.00 545.47M554.40 545.47L561.00 538.87" fill="none" stroke="#22CC88" stroke-width="1.3"/>
<path d="M107.60 204.86 L114.50 231.19 L121.60 256.93 L130.20 269.58 L141.20 286.17 L155.30 303.54 L173.70 307.51 L196.80 334.46 L227.10 346.76 L264.90 357.27 L308.90 377.27 L358.80 413.31 L557.70 536.88" fill="none" stroke="#FF8033" stroke-width="1.9" stroke-dasharray="7 3.7 1.9 3.7" stroke-linejoin="round"/>
<line x1="121.60" y1="261.53" x2="121.60" y2="261.63" stroke="#FF8033" stroke-width="1.4" stroke-dasharray="7 3.7 1.9 3.7"/>
<line x1="119.30" y1="261.63" x2="123.90" y2="261.63" stroke="#FF8033" stroke-width="1.4"/>
<line x1="130.20" y1="274.18" x2="130.20" y2="274.64" stroke="#FF8033" stroke-width="1.4" stroke-dasharray="7 3.7 1.9 3.7"/>
<line x1="127.90" y1="274.64" x2="132.50" y2="274.64" stroke="#FF8033" stroke-width="1.4"/>
<line x1="141.20" y1="290.77" x2="141.20" y2="290.86" stroke="#FF8033" stroke-width="1.4" stroke-dasharray="7 3.7 1.9 3.7"/>
<line x1="138.90" y1="290.86" x2="143.50" y2="290.86" stroke="#FF8033" stroke-width="1.4"/>
<line x1="155.30" y1="308.14" x2="155.30" y2="308.39" stroke="#FF8033" stroke-width="1.4" stroke-dasharray="7 3.7 1.9 3.7"/>
<line x1="153.00" y1="308.39" x2="157.60" y2="308.39" stroke="#FF8033" stroke-width="1.4"/>
<line x1="196.80" y1="329.86" x2="196.80" y2="329.34" stroke="#FF8033" stroke-width="1.4" stroke-dasharray="7 3.7 1.9 3.7"/>
<line x1="194.50" y1="329.34" x2="199.10" y2="329.34" stroke="#FF8033" stroke-width="1.4"/>
<line x1="196.80" y1="339.06" x2="196.80" y2="340.21" stroke="#FF8033" stroke-width="1.4" stroke-dasharray="7 3.7 1.9 3.7"/>
<line x1="194.50" y1="340.21" x2="199.10" y2="340.21" stroke="#FF8033" stroke-width="1.4"/>
<line x1="227.10" y1="342.16" x2="227.10" y2="341.85" stroke="#FF8033" stroke-width="1.4" stroke-dasharray="7 3.7 1.9 3.7"/>
<line x1="224.80" y1="341.85" x2="229.40" y2="341.85" stroke="#FF8033" stroke-width="1.4"/>
<line x1="227.10" y1="351.36" x2="227.10" y2="352.24" stroke="#FF8033" stroke-width="1.4" stroke-dasharray="7 3.7 1.9 3.7"/>
<line x1="224.80" y1="352.24" x2="229.40" y2="352.24" stroke="#FF8033" stroke-width="1.4"/>
<line x1="264.90" y1="352.67" x2="264.90" y2="352.57" stroke="#FF8033" stroke-width="1.4" stroke-dasharray="7 3.7 1.9 3.7"/>
<line x1="262.60" y1="352.57" x2="267.20" y2="352.57" stroke="#FF8033" stroke-width="1.4"/>
<line x1="264.90" y1="361.87" x2="264.90" y2="362.49" stroke="#FF8033" stroke-width="1.4" stroke-dasharray="7 3.7 1.9 3.7"/>
<line x1="262.60" y1="362.49" x2="267.20" y2="362.49" stroke="#FF8033" stroke-width="1.4"/>
<line x1="308.90" y1="372.67" x2="308.90" y2="371.56" stroke="#FF8033" stroke-width="1.4" stroke-dasharray="7 3.7 1.9 3.7"/>
<line x1="306.60" y1="371.56" x2="311.20" y2="371.56" stroke="#FF8033" stroke-width="1.4"/>
<line x1="308.90" y1="381.87" x2="308.90" y2="383.76" stroke="#FF8033" stroke-width="1.4" stroke-dasharray="7 3.7 1.9 3.7"/>
<line x1="306.60" y1="383.76" x2="311.20" y2="383.76" stroke="#FF8033" stroke-width="1.4"/>
<line x1="358.80" y1="408.71" x2="358.80" y2="405.52" stroke="#FF8033" stroke-width="1.4" stroke-dasharray="7 3.7 1.9 3.7"/>
<line x1="356.50" y1="405.52" x2="361.10" y2="405.52" stroke="#FF8033" stroke-width="1.4"/>
<line x1="358.80" y1="417.91" x2="358.80" y2="422.64" stroke="#FF8033" stroke-width="1.4" stroke-dasharray="7 3.7 1.9 3.7"/>
<line x1="356.50" y1="422.64" x2="361.10" y2="422.64" stroke="#FF8033" stroke-width="1.4"/>
<line x1="557.70" y1="532.28" x2="557.70" y2="525.45" stroke="#FF8033" stroke-width="1.4" stroke-dasharray="7 3.7 1.9 3.7"/>
<line x1="555.40" y1="525.45" x2="560.00" y2="525.45" stroke="#FF8033" stroke-width="1.4"/>
<line x1="557.70" y1="541.48" x2="557.70" y2="552.00" stroke="#FF8033" stroke-width="1.4" stroke-dasharray="7 3.7 1.9 3.7"/>
<line x1="555.40" y1="552.00" x2="560.00" y2="552.00" stroke="#FF8033" stroke-width="1.4"/>
<rect x="103.60" y="200.86" width="8.0" height="8.0" fill="#FF8033"/>
<rect x="110.50" y="227.19" width="8.0" height="8.0" fill="#FF8033"/>
<rect x="117.60" y="252.93" width="8.0" height="8.0" fill="#FF8033"/>
<rect x="126.20" y="265.58" width="8.0" height="8.0" fill="#FF8033"/>
<rect x="137.20" y="282.17" width="8.0" height="8.0" fill="#FF8033"/>
<rect x="151.30" y="299.54" width="8.0" height="8.0" fill="#FF8033"/>
<rect x="169.70" y="303.51" width="8.0" height="8.0" fill="#FF8033"/>
<rect x="192.80" y="330.46" width="8.0" height="8.0" fill="#FF8033"/>
<rect x="223.10" y="342.76" width="8.0" height="8.0" fill="#FF8033"/>
<rect x="260.90" y="353.27" width="8.0" height="8.0" fill="#FF8033"/>
<rect x="304.90" y="373.27" width="8.0" height="8.0" fill="#FF8033"/>
<rect x="354.80" y="409.31" width="8.0" height="8.0" fill="#FF8033"/>
<rect x="553.70" y="532.88" width="8.0" height="8.0" fill="#FF8033"/>
<path d="M107.60 204.14 L114.50 239.30 L121.60 261.66 L130.20 267.97 L141.20 281.36 L155.30 300.85 L173.70 312.16 L196.80 325.71 L227.10 334.33 L264.90 350.99 L308.90 392.36 L358.80 414.84 L557.70 543.59" fill="none" stroke="#04AE04" stroke-width="1.9" stroke-dasharray="4.15 4.13" stroke-linejoin="round"/>
<line x1="121.60" y1="266.26" x2="121.60" y2="266.35" stroke="#04AE04" stroke-width="1.4" stroke-dasharray="4.15 4.13"/>
<line x1="119.30" y1="266.35" x2="123.90" y2="266.35" stroke="#04AE04" stroke-width="1.4"/>
<line x1="155.30" y1="296.25" x2="155.30" y2="295.95" stroke="#04AE04" stroke-width="1.4" stroke-dasharray="4.15 4.13"/>
<line x1="153.00" y1="295.95" x2="157.60" y2="295.95" stroke="#04AE04" stroke-width="1.4"/>
<line x1="155.30" y1="305.45" x2="155.30" y2="306.34" stroke="#04AE04" stroke-width="1.4" stroke-dasharray="4.15 4.13"/>
<line x1="153.00" y1="306.34" x2="157.60" y2="306.34" stroke="#04AE04" stroke-width="1.4"/>
<line x1="173.70" y1="316.76" x2="173.70" y2="317.11" stroke="#04AE04" stroke-width="1.4" stroke-dasharray="4.15 4.13"/>
<line x1="171.40" y1="317.11" x2="176.00" y2="317.11" stroke="#04AE04" stroke-width="1.4"/>
<line x1="196.80" y1="321.11" x2="196.80" y2="321.01" stroke="#04AE04" stroke-width="1.4" stroke-dasharray="4.15 4.13"/>
<line x1="194.50" y1="321.01" x2="199.10" y2="321.01" stroke="#04AE04" stroke-width="1.4"/>
<line x1="196.80" y1="330.31" x2="196.80" y2="330.93" stroke="#04AE04" stroke-width="1.4" stroke-dasharray="4.15 4.13"/>
<line x1="194.50" y1="330.93" x2="199.10" y2="330.93" stroke="#04AE04" stroke-width="1.4"/>
<line x1="264.90" y1="355.59" x2="264.90" y2="355.99" stroke="#04AE04" stroke-width="1.4" stroke-dasharray="4.15 4.13"/>
<line x1="262.60" y1="355.99" x2="267.20" y2="355.99" stroke="#04AE04" stroke-width="1.4"/>
<line x1="308.90" y1="387.76" x2="308.90" y2="385.34" stroke="#04AE04" stroke-width="1.4" stroke-dasharray="4.15 4.13"/>
<line x1="306.60" y1="385.34" x2="311.20" y2="385.34" stroke="#04AE04" stroke-width="1.4"/>
<line x1="308.90" y1="396.96" x2="308.90" y2="400.62" stroke="#04AE04" stroke-width="1.4" stroke-dasharray="4.15 4.13"/>
<line x1="306.60" y1="400.62" x2="311.20" y2="400.62" stroke="#04AE04" stroke-width="1.4"/>
<line x1="358.80" y1="410.24" x2="358.80" y2="406.66" stroke="#04AE04" stroke-width="1.4" stroke-dasharray="4.15 4.13"/>
<line x1="356.50" y1="406.66" x2="361.10" y2="406.66" stroke="#04AE04" stroke-width="1.4"/>
<line x1="358.80" y1="419.44" x2="358.80" y2="424.75" stroke="#04AE04" stroke-width="1.4" stroke-dasharray="4.15 4.13"/>
<line x1="356.50" y1="424.75" x2="361.10" y2="424.75" stroke="#04AE04" stroke-width="1.4"/>
<line x1="557.70" y1="538.99" x2="557.70" y2="531.98" stroke="#04AE04" stroke-width="1.4" stroke-dasharray="4.15 4.13"/>
<line x1="555.40" y1="531.98" x2="560.00" y2="531.98" stroke="#04AE04" stroke-width="1.4"/>
<line x1="557.70" y1="548.19" x2="557.70" y2="559.04" stroke="#04AE04" stroke-width="1.4" stroke-dasharray="4.15 4.13"/>
<line x1="555.40" y1="559.04" x2="560.00" y2="559.04" stroke="#04AE04" stroke-width="1.4"/>
<path d="M103.20 200.04 L112.00 200.04 L107.60 208.24 Z" fill="#04AE04"/>
<path d="M110.10 235.20 L118.90 235.20 L114.50 243.40 Z" fill="#04AE04"/>
<path d="M117.20 257.56 L126.00 257.56 L121.60 265.76 Z" fill="#04AE04"/>
<path d="M125.80 263.87 L134.60 263.87 L130.20 272.07 Z" fill="#04AE04"/>
<path d="M136.80 277.26 L145.60 277.26 L141.20 285.46 Z" fill="#04AE04"/>
<path d="M150.90 296.75 L159.70 296.75 L155.30 304.95 Z" fill="#04AE04"/>
<path d="M169.30 308.06 L178.10 308.06 L173.70 316.26 Z" fill="#04AE04"/>
<path d="M192.40 321.61 L201.20 321.61 L196.80 329.81 Z" fill="#04AE04"/>
<path d="M222.70 330.23 L231.50 330.23 L227.10 338.43 Z" fill="#04AE04"/>
<path d="M260.50 346.89 L269.30 346.89 L264.90 355.09 Z" fill="#04AE04"/>
<path d="M304.50 388.26 L313.30 388.26 L308.90 396.46 Z" fill="#04AE04"/>
<path d="M354.40 410.74 L363.20 410.74 L358.80 418.94 Z" fill="#04AE04"/>
<path d="M553.30 539.49 L562.10 539.49 L557.70 547.69 Z" fill="#04AE04"/>
<path d="M107.60 197.43 L114.50 231.57 L121.60 262.03 L130.20 281.77 L141.20 292.10 L155.30 299.67 L173.70 314.31 L196.80 327.21 L227.10 348.10 L264.90 363.23 L308.90 379.74 L358.80 416.69 L557.70 538.62" fill="none" stroke="#4D4D4D" stroke-width="1.9" stroke-linejoin="round"/>
<line x1="121.60" y1="266.63" x2="121.60" y2="266.99" stroke="#4D4D4D" stroke-width="1.4"/>
<line x1="119.30" y1="266.99" x2="123.90" y2="266.99" stroke="#4D4D4D" stroke-width="1.4"/>
<line x1="130.20" y1="277.17" x2="130.20" y2="277.16" stroke="#4D4D4D" stroke-width="1.4"/>
<line x1="127.90" y1="277.16" x2="132.50" y2="277.16" stroke="#4D4D4D" stroke-width="1.4"/>
<line x1="130.20" y1="286.37" x2="130.20" y2="286.88" stroke="#4D4D4D" stroke-width="1.4"/>
<line x1="127.90" y1="286.88" x2="132.50" y2="286.88" stroke="#4D4D4D" stroke-width="1.4"/>
<line x1="141.20" y1="287.50" x2="141.20" y2="287.41" stroke="#4D4D4D" stroke-width="1.4"/>
<line x1="138.90" y1="287.41" x2="143.50" y2="287.41" stroke="#4D4D4D" stroke-width="1.4"/>
<line x1="141.20" y1="296.70" x2="141.20" y2="297.32" stroke="#4D4D4D" stroke-width="1.4"/>
<line x1="138.90" y1="297.32" x2="143.50" y2="297.32" stroke="#4D4D4D" stroke-width="1.4"/>
<line x1="155.30" y1="304.27" x2="155.30" y2="304.63" stroke="#4D4D4D" stroke-width="1.4"/>
<line x1="153.00" y1="304.63" x2="157.60" y2="304.63" stroke="#4D4D4D" stroke-width="1.4"/>
<line x1="173.70" y1="318.91" x2="173.70" y2="319.21" stroke="#4D4D4D" stroke-width="1.4"/>
<line x1="171.40" y1="319.21" x2="176.00" y2="319.21" stroke="#4D4D4D" stroke-width="1.4"/>
<line x1="196.80" y1="322.61" x2="196.80" y2="322.52" stroke="#4D4D4D" stroke-width="1.4"/>
<line x1="194.50" y1="322.52" x2="199.10" y2="322.52" stroke="#4D4D4D" stroke-width="1.4"/>
<line x1="196.80" y1="331.81" x2="196.80" y2="332.43" stroke="#4D4D4D" stroke-width="1.4"/>
<line x1="194.50" y1="332.43" x2="199.10" y2="332.43" stroke="#4D4D4D" stroke-width="1.4"/>
<line x1="227.10" y1="343.50" x2="227.10" y2="343.19" stroke="#4D4D4D" stroke-width="1.4"/>
<line x1="224.80" y1="343.19" x2="229.40" y2="343.19" stroke="#4D4D4D" stroke-width="1.4"/>
<line x1="227.10" y1="352.70" x2="227.10" y2="353.58" stroke="#4D4D4D" stroke-width="1.4"/>
<line x1="224.80" y1="353.58" x2="229.40" y2="353.58" stroke="#4D4D4D" stroke-width="1.4"/>
<line x1="264.90" y1="358.63" x2="264.90" y2="358.54" stroke="#4D4D4D" stroke-width="1.4"/>
<line x1="262.60" y1="358.54" x2="267.20" y2="358.54" stroke="#4D4D4D" stroke-width="1.4"/>
<line x1="264.90" y1="367.83" x2="264.90" y2="368.45" stroke="#4D4D4D" stroke-width="1.4"/>
<line x1="262.60" y1="368.45" x2="267.20" y2="368.45" stroke="#4D4D4D" stroke-width="1.4"/>
<line x1="308.90" y1="375.14" x2="308.90" y2="373.91" stroke="#4D4D4D" stroke-width="1.4"/>
<line x1="306.60" y1="373.91" x2="311.20" y2="373.91" stroke="#4D4D4D" stroke-width="1.4"/>
<line x1="308.90" y1="384.34" x2="308.90" y2="386.40" stroke="#4D4D4D" stroke-width="1.4"/>
<line x1="306.60" y1="386.40" x2="311.20" y2="386.40" stroke="#4D4D4D" stroke-width="1.4"/>
<line x1="358.80" y1="412.09" x2="358.80" y2="408.51" stroke="#4D4D4D" stroke-width="1.4"/>
<line x1="356.50" y1="408.51" x2="361.10" y2="408.51" stroke="#4D4D4D" stroke-width="1.4"/>
<line x1="358.80" y1="421.29" x2="358.80" y2="426.60" stroke="#4D4D4D" stroke-width="1.4"/>
<line x1="356.50" y1="426.60" x2="361.10" y2="426.60" stroke="#4D4D4D" stroke-width="1.4"/>
<line x1="557.70" y1="534.02" x2="557.70" y2="527.38" stroke="#4D4D4D" stroke-width="1.4"/>
<line x1="555.40" y1="527.38" x2="560.00" y2="527.38" stroke="#4D4D4D" stroke-width="1.4"/>
<line x1="557.70" y1="543.22" x2="557.70" y2="553.43" stroke="#4D4D4D" stroke-width="1.4"/>
<line x1="555.40" y1="553.43" x2="560.00" y2="553.43" stroke="#4D4D4D" stroke-width="1.4"/>
<circle cx="107.60" cy="197.43" r="4.3" fill="none" stroke="#4D4D4D" stroke-width="1.4"/>
<circle cx="114.50" cy="231.57" r="4.3" fill="none" stroke="#4D4D4D" stroke-width="1.4"/>
<circle cx="121.60" cy="262.03" r="4.3" fill="none" stroke="#4D4D4D" stroke-width="1.4"/>
<circle cx="130.20" cy="281.77" r="4.3" fill="none" stroke="#4D4D4D" stroke-width="1.4"/>
<circle cx="141.20" cy="292.10" r="4.3" fill="none" stroke="#4D4D4D" stroke-width="1.4"/>
<circle cx="155.30" cy="299.67" r="4.3" fill="none" stroke="#4D4D4D" stroke-width="1.4"/>
<circle cx="173.70" cy="314.31" r="4.3" fill="none" stroke="#4D4D4D" stroke-width="1.4"/>
<circle cx="196.80" cy="327.21" r="4.3" fill="none" stroke="#4D4D4D" stroke-width="1.4"/>
<circle cx="227.10" cy="348.10" r="4.3" fill="none" stroke="#4D4D4D" stroke-width="1.4"/>
<circle cx="264.90" cy="363.23" r="4.3" fill="none" stroke="#4D4D4D" stroke-width="1.4"/>
<circle cx="308.90" cy="379.74" r="4.3" fill="none" stroke="#4D4D4D" stroke-width="1.4"/>
<circle cx="358.80" cy="416.69" r="4.3" fill="none" stroke="#4D4D4D" stroke-width="1.4"/>
<circle cx="557.70" cy="538.62" r="4.3" fill="none" stroke="#4D4D4D" stroke-width="1.4"/>
<path d="M107.60 794.50 L114.50 790.00 L121.60 796.50 L130.20 799.60 L141.20 776.00 L155.30 796.50 L173.70 806.50 L196.80 834.00 L227.10 794.80 L264.90 804.00 L308.90 783.00 L358.80 816.20 L557.70 833.50" fill="none" stroke="#9C0026" stroke-width="1.9" stroke-linejoin="round"/>
<line x1="107.60" y1="789.90" x2="107.60" y2="785.95" stroke="#9C0026" stroke-width="1.4"/>
<line x1="105.30" y1="785.95" x2="109.90" y2="785.95" stroke="#9C0026" stroke-width="1.4"/>
<line x1="107.60" y1="799.10" x2="107.60" y2="803.48" stroke="#9C0026" stroke-width="1.4"/>
<line x1="105.30" y1="803.48" x2="109.90" y2="803.48" stroke="#9C0026" stroke-width="1.4"/>
<line x1="114.50" y1="785.40" x2="114.50" y2="773.31" stroke="#9C0026" stroke-width="1.4"/>
<line x1="112.20" y1="773.31" x2="116.80" y2="773.31" stroke="#9C0026" stroke-width="1.4"/>
<line x1="114.50" y1="794.60" x2="114.50" y2="808.45" stroke="#9C0026" stroke-width="1.4"/>
<line x1="112.20" y1="808.45" x2="116.80" y2="808.45" stroke="#9C0026" stroke-width="1.4"/>
<line x1="121.60" y1="791.90" x2="121.60" y2="780.60" stroke="#9C0026" stroke-width="1.4"/>
<line x1="119.30" y1="780.60" x2="123.90" y2="780.60" stroke="#9C0026" stroke-width="1.4"/>
<line x1="121.60" y1="801.10" x2="121.60" y2="813.98" stroke="#9C0026" stroke-width="1.4"/>
<line x1="119.30" y1="813.98" x2="123.90" y2="813.98" stroke="#9C0026" stroke-width="1.4"/>
<line x1="130.20" y1="795.00" x2="130.20" y2="783.70" stroke="#9C0026" stroke-width="1.4"/>
<line x1="127.90" y1="783.70" x2="132.50" y2="783.70" stroke="#9C0026" stroke-width="1.4"/>
<line x1="130.20" y1="804.20" x2="130.20" y2="817.08" stroke="#9C0026" stroke-width="1.4"/>
<line x1="127.90" y1="817.08" x2="132.50" y2="817.08" stroke="#9C0026" stroke-width="1.4"/>
<line x1="141.20" y1="771.40" x2="141.20" y2="760.10" stroke="#9C0026" stroke-width="1.4"/>
<line x1="138.90" y1="760.10" x2="143.50" y2="760.10" stroke="#9C0026" stroke-width="1.4"/>
<line x1="141.20" y1="780.60" x2="141.20" y2="793.48" stroke="#9C0026" stroke-width="1.4"/>
<line x1="138.90" y1="793.48" x2="143.50" y2="793.48" stroke="#9C0026" stroke-width="1.4"/>
<line x1="155.30" y1="791.90" x2="155.30" y2="779.81" stroke="#9C0026" stroke-width="1.4"/>
<line x1="153.00" y1="779.81" x2="157.60" y2="779.81" stroke="#9C0026" stroke-width="1.4"/>
<line x1="155.30" y1="801.10" x2="155.30" y2="814.95" stroke="#9C0026" stroke-width="1.4"/>
<line x1="153.00" y1="814.95" x2="157.60" y2="814.95" stroke="#9C0026" stroke-width="1.4"/>
<line x1="173.70" y1="801.90" x2="173.70" y2="789.81" stroke="#9C0026" stroke-width="1.4"/>
<line x1="171.40" y1="789.81" x2="176.00" y2="789.81" stroke="#9C0026" stroke-width="1.4"/>
<line x1="173.70" y1="811.10" x2="173.70" y2="824.95" stroke="#9C0026" stroke-width="1.4"/>
<line x1="171.40" y1="824.95" x2="176.00" y2="824.95" stroke="#9C0026" stroke-width="1.4"/>
<line x1="196.80" y1="829.40" x2="196.80" y2="816.51" stroke="#9C0026" stroke-width="1.4"/>
<line x1="194.50" y1="816.51" x2="199.10" y2="816.51" stroke="#9C0026" stroke-width="1.4"/>
<line x1="196.80" y1="838.60" x2="196.80" y2="853.43" stroke="#9C0026" stroke-width="1.4"/>
<line x1="194.50" y1="853.43" x2="199.10" y2="853.43" stroke="#9C0026" stroke-width="1.4"/>
<line x1="227.10" y1="790.20" x2="227.10" y2="776.52" stroke="#9C0026" stroke-width="1.4"/>
<line x1="224.80" y1="776.52" x2="229.40" y2="776.52" stroke="#9C0026" stroke-width="1.4"/>
<line x1="227.10" y1="799.40" x2="227.10" y2="815.21" stroke="#9C0026" stroke-width="1.4"/>
<line x1="224.80" y1="815.21" x2="229.40" y2="815.21" stroke="#9C0026" stroke-width="1.4"/>
<line x1="264.90" y1="799.40" x2="264.90" y2="786.51" stroke="#9C0026" stroke-width="1.4"/>
<line x1="262.60" y1="786.51" x2="267.20" y2="786.51" stroke="#9C0026" stroke-width="1.4"/>
<line x1="264.90" y1="808.60" x2="264.90" y2="823.43" stroke="#9C0026" stroke-width="1.4"/>
<line x1="262.60" y1="823.43" x2="267.20" y2="823.43" stroke="#9C0026" stroke-width="1.4"/>
<line x1="308.90" y1="778.40" x2="308.90" y2="761.59" stroke="#9C0026" stroke-width="1.4"/>
<line x1="306.60" y1="761.59" x2="311.20" y2="761.59" stroke="#9C0026" stroke-width="1.4"/>
<line x1="308.90" y1="787.60" x2="308.90" y2="807.39" stroke="#9C0026" stroke-width="1.4"/>
<line x1="306.60" y1="807.39" x2="311.20" y2="807.39" stroke="#9C0026" stroke-width="1.4"/>
<line x1="358.80" y1="811.60" x2="358.80" y2="786.47" stroke="#9C0026" stroke-width="1.4"/>
<line x1="356.50" y1="786.47" x2="361.10" y2="786.47" stroke="#9C0026" stroke-width="1.4"/>
<line x1="358.80" y1="820.80" x2="358.80" y2="852.03" stroke="#9C0026" stroke-width="1.4"/>
<line x1="356.50" y1="852.03" x2="361.10" y2="852.03" stroke="#9C0026" stroke-width="1.4"/>
<line x1="557.70" y1="828.90" x2="557.70" y2="788.22" stroke="#9C0026" stroke-width="1.4"/>
<line x1="555.40" y1="788.22" x2="560.00" y2="788.22" stroke="#9C0026" stroke-width="1.4"/>
<line x1="557.70" y1="838.10" x2="557.70" y2="894.73" stroke="#9C0026" stroke-width="1.4"/>
<line x1="555.40" y1="894.73" x2="560.00" y2="894.73" stroke="#9C0026" stroke-width="1.4"/>
<path d="M101.80 800.20 L113.40 800.20 L107.60 788.80 Z" fill="none" stroke="#9C0026" stroke-width="1.5" stroke-linejoin="miter"/>
<path d="M108.70 795.70 L120.30 795.70 L114.50 784.30 Z" fill="none" stroke="#9C0026" stroke-width="1.5" stroke-linejoin="miter"/>
<path d="M115.80 802.20 L127.40 802.20 L121.60 790.80 Z" fill="none" stroke="#9C0026" stroke-width="1.5" stroke-linejoin="miter"/>
<path d="M124.40 805.30 L136.00 805.30 L130.20 793.90 Z" fill="none" stroke="#9C0026" stroke-width="1.5" stroke-linejoin="miter"/>
<path d="M135.40 781.70 L147.00 781.70 L141.20 770.30 Z" fill="none" stroke="#9C0026" stroke-width="1.5" stroke-linejoin="miter"/>
<path d="M149.50 802.20 L161.10 802.20 L155.30 790.80 Z" fill="none" stroke="#9C0026" stroke-width="1.5" stroke-linejoin="miter"/>
<path d="M167.90 812.20 L179.50 812.20 L173.70 800.80 Z" fill="none" stroke="#9C0026" stroke-width="1.5" stroke-linejoin="miter"/>
<path d="M191.00 839.70 L202.60 839.70 L196.80 828.30 Z" fill="none" stroke="#9C0026" stroke-width="1.5" stroke-linejoin="miter"/>
<path d="M221.30 800.50 L232.90 800.50 L227.10 789.10 Z" fill="none" stroke="#9C0026" stroke-width="1.5" stroke-linejoin="miter"/>
<path d="M259.10 809.70 L270.70 809.70 L264.90 798.30 Z" fill="none" stroke="#9C0026" stroke-width="1.5" stroke-linejoin="miter"/>
<path d="M303.10 788.70 L314.70 788.70 L308.90 777.30 Z" fill="none" stroke="#9C0026" stroke-width="1.5" stroke-linejoin="miter"/>
<path d="M353.00 821.90 L364.60 821.90 L358.80 810.50 Z" fill="none" stroke="#9C0026" stroke-width="1.5" stroke-linejoin="miter"/>
<path d="M551.90 839.20 L563.50 839.20 L557.70 827.80 Z" fill="none" stroke="#9C0026" stroke-width="1.5" stroke-linejoin="miter"/>
<path d="M107.60 778.00 L114.50 756.00 L121.60 773.50 L130.20 814.00 L141.20 800.60 L155.30 784.20 L173.70 830.20 L196.80 834.00 L227.10 826.30 L264.90 806.50 L308.90 877.00 L358.80 930.70 L557.70 817.00" fill="none" stroke="#FF2E5E" stroke-width="1.9" stroke-dasharray="4.15 4.13" stroke-linejoin="round"/>
<line x1="107.60" y1="773.40" x2="107.60" y2="769.45" stroke="#FF2E5E" stroke-width="1.4" stroke-dasharray="4.15 4.13"/>
<line x1="105.30" y1="769.45" x2="109.90" y2="769.45" stroke="#FF2E5E" stroke-width="1.4"/>
<line x1="107.60" y1="782.60" x2="107.60" y2="786.98" stroke="#FF2E5E" stroke-width="1.4" stroke-dasharray="4.15 4.13"/>
<line x1="105.30" y1="786.98" x2="109.90" y2="786.98" stroke="#FF2E5E" stroke-width="1.4"/>
<line x1="114.50" y1="751.40" x2="114.50" y2="744.48" stroke="#FF2E5E" stroke-width="1.4" stroke-dasharray="4.15 4.13"/>
<line x1="112.20" y1="744.48" x2="116.80" y2="744.48" stroke="#FF2E5E" stroke-width="1.4"/>
<line x1="114.50" y1="760.60" x2="114.50" y2="768.33" stroke="#FF2E5E" stroke-width="1.4" stroke-dasharray="4.15 4.13"/>
<line x1="112.20" y1="768.33" x2="116.80" y2="768.33" stroke="#FF2E5E" stroke-width="1.4"/>
<line x1="121.60" y1="768.90" x2="121.60" y2="760.02" stroke="#FF2E5E" stroke-width="1.4" stroke-dasharray="4.15 4.13"/>
<line x1="119.30" y1="760.02" x2="123.90" y2="760.02" stroke="#FF2E5E" stroke-width="1.4"/>
<line x1="121.60" y1="778.10" x2="121.60" y2="788.10" stroke="#FF2E5E" stroke-width="1.4" stroke-dasharray="4.15 4.13"/>
<line x1="119.30" y1="788.10" x2="123.90" y2="788.10" stroke="#FF2E5E" stroke-width="1.4"/>
<line x1="130.20" y1="809.40" x2="130.20" y2="798.10" stroke="#FF2E5E" stroke-width="1.4" stroke-dasharray="4.15 4.13"/>
<line x1="127.90" y1="798.10" x2="132.50" y2="798.10" stroke="#FF2E5E" stroke-width="1.4"/>
<line x1="130.20" y1="818.60" x2="130.20" y2="831.48" stroke="#FF2E5E" stroke-width="1.4" stroke-dasharray="4.15 4.13"/>
<line x1="127.90" y1="831.48" x2="132.50" y2="831.48" stroke="#FF2E5E" stroke-width="1.4"/>
<line x1="141.20" y1="796.00" x2="141.20" y2="784.70" stroke="#FF2E5E" stroke-width="1.4" stroke-dasharray="4.15 4.13"/>
<line x1="138.90" y1="784.70" x2="143.50" y2="784.70" stroke="#FF2E5E" stroke-width="1.4"/>
<line x1="141.20" y1="805.20" x2="141.20" y2="818.08" stroke="#FF2E5E" stroke-width="1.4" stroke-dasharray="4.15 4.13"/>
<line x1="138.90" y1="818.08" x2="143.50" y2="818.08" stroke="#FF2E5E" stroke-width="1.4"/>
<line x1="155.30" y1="779.60" x2="155.30" y2="767.51" stroke="#FF2E5E" stroke-width="1.4" stroke-dasharray="4.15 4.13"/>
<line x1="153.00" y1="767.51" x2="157.60" y2="767.51" stroke="#FF2E5E" stroke-width="1.4"/>
<line x1="155.30" y1="788.80" x2="155.30" y2="802.65" stroke="#FF2E5E" stroke-width="1.4" stroke-dasharray="4.15 4.13"/>
<line x1="153.00" y1="802.65" x2="157.60" y2="802.65" stroke="#FF2E5E" stroke-width="1.4"/>
<line x1="173.70" y1="825.60" x2="173.70" y2="811.92" stroke="#FF2E5E" stroke-width="1.4" stroke-dasharray="4.15 4.13"/>
<line x1="171.40" y1="811.92" x2="176.00" y2="811.92" stroke="#FF2E5E" stroke-width="1.4"/>
<line x1="173.70" y1="834.80" x2="173.70" y2="850.61" stroke="#FF2E5E" stroke-width="1.4" stroke-dasharray="4.15 4.13"/>
<line x1="171.40" y1="850.61" x2="176.00" y2="850.61" stroke="#FF2E5E" stroke-width="1.4"/>
<line x1="196.80" y1="829.40" x2="196.80" y2="815.72" stroke="#FF2E5E" stroke-width="1.4" stroke-dasharray="4.15 4.13"/>
<line x1="194.50" y1="815.72" x2="199.10" y2="815.72" stroke="#FF2E5E" stroke-width="1.4"/>
<line x1="196.80" y1="838.60" x2="196.80" y2="854.41" stroke="#FF2E5E" stroke-width="1.4" stroke-dasharray="4.15 4.13"/>
<line x1="194.50" y1="854.41" x2="199.10" y2="854.41" stroke="#FF2E5E" stroke-width="1.4"/>
<line x1="227.10" y1="821.70" x2="227.10" y2="807.23" stroke="#FF2E5E" stroke-width="1.4" stroke-dasharray="4.15 4.13"/>
<line x1="224.80" y1="807.23" x2="229.40" y2="807.23" stroke="#FF2E5E" stroke-width="1.4"/>
<line x1="227.10" y1="830.90" x2="227.10" y2="847.70" stroke="#FF2E5E" stroke-width="1.4" stroke-dasharray="4.15 4.13"/>
<line x1="224.80" y1="847.70" x2="229.40" y2="847.70" stroke="#FF2E5E" stroke-width="1.4"/>
<line x1="264.90" y1="801.90" x2="264.90" y2="787.43" stroke="#FF2E5E" stroke-width="1.4" stroke-dasharray="4.15 4.13"/>
<line x1="262.60" y1="787.43" x2="267.20" y2="787.43" stroke="#FF2E5E" stroke-width="1.4"/>
<line x1="264.90" y1="811.10" x2="264.90" y2="827.90" stroke="#FF2E5E" stroke-width="1.4" stroke-dasharray="4.15 4.13"/>
<line x1="262.60" y1="827.90" x2="267.20" y2="827.90" stroke="#FF2E5E" stroke-width="1.4"/>
<line x1="308.90" y1="872.40" x2="308.90" y2="848.01" stroke="#FF2E5E" stroke-width="1.4" stroke-dasharray="4.15 4.13"/>
<line x1="306.60" y1="848.01" x2="311.20" y2="848.01" stroke="#FF2E5E" stroke-width="1.4"/>
<line x1="308.90" y1="881.60" x2="308.90" y2="911.76" stroke="#FF2E5E" stroke-width="1.4" stroke-dasharray="4.15 4.13"/>
<line x1="306.60" y1="911.76" x2="311.20" y2="911.76" stroke="#FF2E5E" stroke-width="1.4"/>
<line x1="358.80" y1="926.10" x2="358.80" y2="890.22" stroke="#FF2E5E" stroke-width="1.4" stroke-dasharray="4.15 4.13"/>
<line x1="356.50" y1="890.22" x2="361.10" y2="890.22" stroke="#FF2E5E" stroke-width="1.4"/>
<line x1="358.80" y1="935.30" x2="358.80" y2="955.00" stroke="#FF2E5E" stroke-width="1.4" stroke-dasharray="4.15 4.13"/>
<line x1="557.70" y1="812.40" x2="557.70" y2="773.76" stroke="#FF2E5E" stroke-width="1.4" stroke-dasharray="4.15 4.13"/>
<line x1="555.40" y1="773.76" x2="560.00" y2="773.76" stroke="#FF2E5E" stroke-width="1.4"/>
<line x1="557.70" y1="821.60" x2="557.70" y2="874.54" stroke="#FF2E5E" stroke-width="1.4" stroke-dasharray="4.15 4.13"/>
<line x1="555.40" y1="874.54" x2="560.00" y2="874.54" stroke="#FF2E5E" stroke-width="1.4"/>
<circle cx="107.60" cy="778.00" r="4.0" fill="none" stroke="#FF2E5E" stroke-width="1.4"/>
<circle cx="114.50" cy="756.00" r="4.0" fill="none" stroke="#FF2E5E" stroke-width="1.4"/>
<circle cx="121.60" cy="773.50" r="4.0" fill="none" stroke="#FF2E5E" stroke-width="1.4"/>
<circle cx="130.20" cy="814.00" r="4.0" fill="none" stroke="#FF2E5E" stroke-width="1.4"/>
<circle cx="141.20" cy="800.60" r="4.0" fill="none" stroke="#FF2E5E" stroke-width="1.4"/>
<circle cx="155.30" cy="784.20" r="4.0" fill="none" stroke="#FF2E5E" stroke-width="1.4"/>
<circle cx="173.70" cy="830.20" r="4.0" fill="none" stroke="#FF2E5E" stroke-width="1.4"/>
<circle cx="196.80" cy="834.00" r="4.0" fill="none" stroke="#FF2E5E" stroke-width="1.4"/>
<circle cx="227.10" cy="826.30" r="4.0" fill="none" stroke="#FF2E5E" stroke-width="1.4"/>
<circle cx="264.90" cy="806.50" r="4.0" fill="none" stroke="#FF2E5E" stroke-width="1.4"/>
<circle cx="308.90" cy="877.00" r="4.0" fill="none" stroke="#FF2E5E" stroke-width="1.4"/>
<circle cx="358.80" cy="930.70" r="4.0" fill="none" stroke="#FF2E5E" stroke-width="1.4"/>
<circle cx="557.70" cy="817.00" r="4.0" fill="none" stroke="#FF2E5E" stroke-width="1.4"/>
<path d="M107.60 790.00 L114.50 800.00 L121.60 801.00 L130.20 818.00 L141.20 776.00 L155.30 789.00 L173.70 798.00 L196.80 807.30 L227.10 791.20 L264.90 786.20 L308.90 773.00 L358.80 804.70 L557.70 807.30" fill="none" stroke="#22CC88" stroke-width="1.9" stroke-dasharray="4.15 4.13" stroke-linejoin="round"/>
<line x1="107.60" y1="785.40" x2="107.60" y2="781.45" stroke="#22CC88" stroke-width="1.4" stroke-dasharray="4.15 4.13"/>
<line x1="105.30" y1="781.45" x2="109.90" y2="781.45" stroke="#22CC88" stroke-width="1.4"/>
<line x1="107.60" y1="794.60" x2="107.60" y2="798.98" stroke="#22CC88" stroke-width="1.4" stroke-dasharray="4.15 4.13"/>
<line x1="105.30" y1="798.98" x2="109.90" y2="798.98" stroke="#22CC88" stroke-width="1.4"/>
<line x1="114.50" y1="795.40" x2="114.50" y2="786.52" stroke="#22CC88" stroke-width="1.4" stroke-dasharray="4.15 4.13"/>
<line x1="112.20" y1="786.52" x2="116.80" y2="786.52" stroke="#22CC88" stroke-width="1.4"/>
<line x1="114.50" y1="804.60" x2="114.50" y2="814.60" stroke="#22CC88" stroke-width="1.4" stroke-dasharray="4.15 4.13"/>
<line x1="112.20" y1="814.60" x2="116.80" y2="814.60" stroke="#22CC88" stroke-width="1.4"/>
<line x1="121.60" y1="796.40" x2="121.60" y2="785.10" stroke="#22CC88" stroke-width="1.4" stroke-dasharray="4.15 4.13"/>
<line x1="119.30" y1="785.10" x2="123.90" y2="785.10" stroke="#22CC88" stroke-width="1.4"/>
<line x1="121.60" y1="805.60" x2="121.60" y2="818.48" stroke="#22CC88" stroke-width="1.4" stroke-dasharray="4.15 4.13"/>
<line x1="119.30" y1="818.48" x2="123.90" y2="818.48" stroke="#22CC88" stroke-width="1.4"/>
<line x1="130.20" y1="813.40" x2="130.20" y2="802.10" stroke="#22CC88" stroke-width="1.4" stroke-dasharray="4.15 4.13"/>
<line x1="127.90" y1="802.10" x2="132.50" y2="802.10" stroke="#22CC88" stroke-width="1.4"/>
<line x1="130.20" y1="822.60" x2="130.20" y2="835.48" stroke="#22CC88" stroke-width="1.4" stroke-dasharray="4.15 4.13"/>
<line x1="127.90" y1="835.48" x2="132.50" y2="835.48" stroke="#22CC88" stroke-width="1.4"/>
<line x1="141.20" y1="771.40" x2="141.20" y2="758.67" stroke="#22CC88" stroke-width="1.4" stroke-dasharray="4.15 4.13"/>
<line x1="138.90" y1="758.67" x2="143.50" y2="758.67" stroke="#22CC88" stroke-width="1.4"/>
<line x1="141.20" y1="780.60" x2="141.20" y2="795.23" stroke="#22CC88" stroke-width="1.4" stroke-dasharray="4.15 4.13"/>
<line x1="138.90" y1="795.23" x2="143.50" y2="795.23" stroke="#22CC88" stroke-width="1.4"/>
<line x1="155.30" y1="784.40" x2="155.30" y2="767.59" stroke="#22CC88" stroke-width="1.4" stroke-dasharray="4.15 4.13"/>
<line x1="153.00" y1="767.59" x2="157.60" y2="767.59" stroke="#22CC88" stroke-width="1.4"/>
<line x1="155.30" y1="793.60" x2="155.30" y2="813.39" stroke="#22CC88" stroke-width="1.4" stroke-dasharray="4.15 4.13"/>
<line x1="153.00" y1="813.39" x2="157.60" y2="813.39" stroke="#22CC88" stroke-width="1.4"/>
<line x1="173.70" y1="793.40" x2="173.70" y2="781.31" stroke="#22CC88" stroke-width="1.4" stroke-dasharray="4.15 4.13"/>
<line x1="171.40" y1="781.31" x2="176.00" y2="781.31" stroke="#22CC88" stroke-width="1.4"/>
<line x1="173.70" y1="802.60" x2="173.70" y2="816.45" stroke="#22CC88" stroke-width="1.4" stroke-dasharray="4.15 4.13"/>
<line x1="171.40" y1="816.45" x2="176.00" y2="816.45" stroke="#22CC88" stroke-width="1.4"/>
<line x1="196.80" y1="802.70" x2="196.80" y2="789.81" stroke="#22CC88" stroke-width="1.4" stroke-dasharray="4.15 4.13"/>
<line x1="194.50" y1="789.81" x2="199.10" y2="789.81" stroke="#22CC88" stroke-width="1.4"/>
<line x1="196.80" y1="811.90" x2="196.80" y2="826.73" stroke="#22CC88" stroke-width="1.4" stroke-dasharray="4.15 4.13"/>
<line x1="194.50" y1="826.73" x2="199.10" y2="826.73" stroke="#22CC88" stroke-width="1.4"/>
<line x1="227.10" y1="786.60" x2="227.10" y2="772.92" stroke="#22CC88" stroke-width="1.4" stroke-dasharray="4.15 4.13"/>
<line x1="224.80" y1="772.92" x2="229.40" y2="772.92" stroke="#22CC88" stroke-width="1.4"/>
<line x1="227.10" y1="795.80" x2="227.10" y2="811.61" stroke="#22CC88" stroke-width="1.4" stroke-dasharray="4.15 4.13"/>
<line x1="224.80" y1="811.61" x2="229.40" y2="811.61" stroke="#22CC88" stroke-width="1.4"/>
<line x1="264.90" y1="781.60" x2="264.90" y2="768.71" stroke="#22CC88" stroke-width="1.4" stroke-dasharray="4.15 4.13"/>
<line x1="262.60" y1="768.71" x2="267.20" y2="768.71" stroke="#22CC88" stroke-width="1.4"/>
<line x1="264.90" y1="790.80" x2="264.90" y2="805.63" stroke="#22CC88" stroke-width="1.4" stroke-dasharray="4.15 4.13"/>
<line x1="262.60" y1="805.63" x2="267.20" y2="805.63" stroke="#22CC88" stroke-width="1.4"/>
<line x1="308.90" y1="768.40" x2="308.90" y2="751.59" stroke="#22CC88" stroke-width="1.4" stroke-dasharray="4.15 4.13"/>
<line x1="306.60" y1="751.59" x2="311.20" y2="751.59" stroke="#22CC88" stroke-width="1.4"/>
<line x1="308.90" y1="777.60" x2="308.90" y2="797.39" stroke="#22CC88" stroke-width="1.4" stroke-dasharray="4.15 4.13"/>
<line x1="306.60" y1="797.39" x2="311.20" y2="797.39" stroke="#22CC88" stroke-width="1.4"/>
<line x1="358.80" y1="800.10" x2="358.80" y2="774.23" stroke="#22CC88" stroke-width="1.4" stroke-dasharray="4.15 4.13"/>
<line x1="356.50" y1="774.23" x2="361.10" y2="774.23" stroke="#22CC88" stroke-width="1.4"/>
<line x1="358.80" y1="809.30" x2="358.80" y2="841.61" stroke="#22CC88" stroke-width="1.4" stroke-dasharray="4.15 4.13"/>
<line x1="356.50" y1="841.61" x2="361.10" y2="841.61" stroke="#22CC88" stroke-width="1.4"/>
<line x1="557.70" y1="802.70" x2="557.70" y2="763.38" stroke="#22CC88" stroke-width="1.4" stroke-dasharray="4.15 4.13"/>
<line x1="555.40" y1="763.38" x2="560.00" y2="763.38" stroke="#22CC88" stroke-width="1.4"/>
<line x1="557.70" y1="811.90" x2="557.70" y2="866.06" stroke="#22CC88" stroke-width="1.4" stroke-dasharray="4.15 4.13"/>
<line x1="555.40" y1="866.06" x2="560.00" y2="866.06" stroke="#22CC88" stroke-width="1.4"/>
<path d="M103.00 790.00H112.20M107.60 785.40V794.60M104.30 786.70L110.90 793.30M104.30 793.30L110.90 786.70" fill="none" stroke="#22CC88" stroke-width="1.3"/>
<path d="M109.90 800.00H119.10M114.50 795.40V804.60M111.20 796.70L117.80 803.30M111.20 803.30L117.80 796.70" fill="none" stroke="#22CC88" stroke-width="1.3"/>
<path d="M117.00 801.00H126.20M121.60 796.40V805.60M118.30 797.70L124.90 804.30M118.30 804.30L124.90 797.70" fill="none" stroke="#22CC88" stroke-width="1.3"/>
<path d="M125.60 818.00H134.80M130.20 813.40V822.60M126.90 814.70L133.50 821.30M126.90 821.30L133.50 814.70" fill="none" stroke="#22CC88" stroke-width="1.3"/>
<path d="M136.60 776.00H145.80M141.20 771.40V780.60M137.90 772.70L144.50 779.30M137.90 779.30L144.50 772.70" fill="none" stroke="#22CC88" stroke-width="1.3"/>
<path d="M150.70 789.00H159.90M155.30 784.40V793.60M152.00 785.70L158.60 792.30M152.00 792.30L158.60 785.70" fill="none" stroke="#22CC88" stroke-width="1.3"/>
<path d="M169.10 798.00H178.30M173.70 793.40V802.60M170.40 794.70L177.00 801.30M170.40 801.30L177.00 794.70" fill="none" stroke="#22CC88" stroke-width="1.3"/>
<path d="M192.20 807.30H201.40M196.80 802.70V811.90M193.50 804.00L200.10 810.60M193.50 810.60L200.10 804.00" fill="none" stroke="#22CC88" stroke-width="1.3"/>
<path d="M222.50 791.20H231.70M227.10 786.60V795.80M223.80 787.90L230.40 794.50M223.80 794.50L230.40 787.90" fill="none" stroke="#22CC88" stroke-width="1.3"/>
<path d="M260.30 786.20H269.50M264.90 781.60V790.80M261.60 782.90L268.20 789.50M261.60 789.50L268.20 782.90" fill="none" stroke="#22CC88" stroke-width="1.3"/>
<path d="M304.30 773.00H313.50M308.90 768.40V777.60M305.60 769.70L312.20 776.30M305.60 776.30L312.20 769.70" fill="none" stroke="#22CC88" stroke-width="1.3"/>
<path d="M354.20 804.70H363.40M358.80 800.10V809.30M355.50 801.40L362.10 808.00M355.50 808.00L362.10 801.40" fill="none" stroke="#22CC88" stroke-width="1.3"/>
<path d="M553.10 807.30H562.30M557.70 802.70V811.90M554.40 804.00L561.00 810.60M554.40 810.60L561.00 804.00" fill="none" stroke="#22CC88" stroke-width="1.3"/>
<path d="M107.60 801.70 L114.50 791.00 L121.60 790.40 L130.20 785.00 L141.20 788.30 L155.30 799.00 L173.70 773.20 L196.80 839.30 L227.10 816.20 L264.90 783.10 L308.90 760.00 L358.80 793.30 L557.70 787.60" fill="none" stroke="#FF8033" stroke-width="1.9" stroke-dasharray="7 3.7 1.9 3.7" stroke-linejoin="round"/>
<line x1="107.60" y1="797.10" x2="107.60" y2="792.99" stroke="#FF8033" stroke-width="1.4" stroke-dasharray="7 3.7 1.9 3.7"/>
<line x1="105.30" y1="792.99" x2="109.90" y2="792.99" stroke="#FF8033" stroke-width="1.4"/>
<line x1="107.60" y1="806.30" x2="107.60" y2="810.87" stroke="#FF8033" stroke-width="1.4" stroke-dasharray="7 3.7 1.9 3.7"/>
<line x1="105.30" y1="810.87" x2="109.90" y2="810.87" stroke="#FF8033" stroke-width="1.4"/>
<line x1="114.50" y1="786.40" x2="114.50" y2="777.52" stroke="#FF8033" stroke-width="1.4" stroke-dasharray="7 3.7 1.9 3.7"/>
<line x1="112.20" y1="777.52" x2="116.80" y2="777.52" stroke="#FF8033" stroke-width="1.4"/>
<line x1="114.50" y1="795.60" x2="114.50" y2="805.60" stroke="#FF8033" stroke-width="1.4" stroke-dasharray="7 3.7 1.9 3.7"/>
<line x1="112.20" y1="805.60" x2="116.80" y2="805.60" stroke="#FF8033" stroke-width="1.4"/>
<line x1="121.60" y1="785.80" x2="121.60" y2="774.50" stroke="#FF8033" stroke-width="1.4" stroke-dasharray="7 3.7 1.9 3.7"/>
<line x1="119.30" y1="774.50" x2="123.90" y2="774.50" stroke="#FF8033" stroke-width="1.4"/>
<line x1="121.60" y1="795.00" x2="121.60" y2="807.88" stroke="#FF8033" stroke-width="1.4" stroke-dasharray="7 3.7 1.9 3.7"/>
<line x1="119.30" y1="807.88" x2="123.90" y2="807.88" stroke="#FF8033" stroke-width="1.4"/>
<line x1="130.20" y1="780.40" x2="130.20" y2="767.99" stroke="#FF8033" stroke-width="1.4" stroke-dasharray="7 3.7 1.9 3.7"/>
<line x1="127.90" y1="767.99" x2="132.50" y2="767.99" stroke="#FF8033" stroke-width="1.4"/>
<line x1="130.20" y1="789.60" x2="130.20" y2="803.84" stroke="#FF8033" stroke-width="1.4" stroke-dasharray="7 3.7 1.9 3.7"/>
<line x1="127.90" y1="803.84" x2="132.50" y2="803.84" stroke="#FF8033" stroke-width="1.4"/>
<line x1="141.20" y1="783.70" x2="141.20" y2="772.40" stroke="#FF8033" stroke-width="1.4" stroke-dasharray="7 3.7 1.9 3.7"/>
<line x1="138.90" y1="772.40" x2="143.50" y2="772.40" stroke="#FF8033" stroke-width="1.4"/>
<line x1="141.20" y1="792.90" x2="141.20" y2="805.78" stroke="#FF8033" stroke-width="1.4" stroke-dasharray="7 3.7 1.9 3.7"/>
<line x1="138.90" y1="805.78" x2="143.50" y2="805.78" stroke="#FF8033" stroke-width="1.4"/>
<line x1="155.30" y1="794.40" x2="155.30" y2="782.63" stroke="#FF8033" stroke-width="1.4" stroke-dasharray="7 3.7 1.9 3.7"/>
<line x1="153.00" y1="782.63" x2="157.60" y2="782.63" stroke="#FF8033" stroke-width="1.4"/>
<line x1="155.30" y1="803.60" x2="155.30" y2="817.07" stroke="#FF8033" stroke-width="1.4" stroke-dasharray="7 3.7 1.9 3.7"/>
<line x1="153.00" y1="817.07" x2="157.60" y2="817.07" stroke="#FF8033" stroke-width="1.4"/>
<line x1="173.70" y1="768.60" x2="173.70" y2="757.95" stroke="#FF8033" stroke-width="1.4" stroke-dasharray="7 3.7 1.9 3.7"/>
<line x1="171.40" y1="757.95" x2="176.00" y2="757.95" stroke="#FF8033" stroke-width="1.4"/>
<line x1="173.70" y1="777.80" x2="173.70" y2="789.91" stroke="#FF8033" stroke-width="1.4" stroke-dasharray="7 3.7 1.9 3.7"/>
<line x1="171.40" y1="789.91" x2="176.00" y2="789.91" stroke="#FF8033" stroke-width="1.4"/>
<line x1="196.80" y1="834.70" x2="196.80" y2="820.23" stroke="#FF8033" stroke-width="1.4" stroke-dasharray="7 3.7 1.9 3.7"/>
<line x1="194.50" y1="820.23" x2="199.10" y2="820.23" stroke="#FF8033" stroke-width="1.4"/>
<line x1="196.80" y1="843.90" x2="196.80" y2="860.70" stroke="#FF8033" stroke-width="1.4" stroke-dasharray="7 3.7 1.9 3.7"/>
<line x1="194.50" y1="860.70" x2="199.10" y2="860.70" stroke="#FF8033" stroke-width="1.4"/>
<line x1="227.10" y1="811.60" x2="227.10" y2="797.92" stroke="#FF8033" stroke-width="1.4" stroke-dasharray="7 3.7 1.9 3.7"/>
<line x1="224.80" y1="797.92" x2="229.40" y2="797.92" stroke="#FF8033" stroke-width="1.4"/>
<line x1="227.10" y1="820.80" x2="227.10" y2="836.61" stroke="#FF8033" stroke-width="1.4" stroke-dasharray="7 3.7 1.9 3.7"/>
<line x1="224.80" y1="836.61" x2="229.40" y2="836.61" stroke="#FF8033" stroke-width="1.4"/>
<line x1="264.90" y1="778.50" x2="264.90" y2="765.61" stroke="#FF8033" stroke-width="1.4" stroke-dasharray="7 3.7 1.9 3.7"/>
<line x1="262.60" y1="765.61" x2="267.20" y2="765.61" stroke="#FF8033" stroke-width="1.4"/>
<line x1="264.90" y1="787.70" x2="264.90" y2="802.53" stroke="#FF8033" stroke-width="1.4" stroke-dasharray="7 3.7 1.9 3.7"/>
<line x1="262.60" y1="802.53" x2="267.20" y2="802.53" stroke="#FF8033" stroke-width="1.4"/>
<line x1="308.90" y1="755.40" x2="308.90" y2="738.75" stroke="#FF8033" stroke-width="1.4" stroke-dasharray="7 3.7 1.9 3.7"/>
<line x1="306.60" y1="738.75" x2="311.20" y2="738.75" stroke="#FF8033" stroke-width="1.4"/>
<line x1="308.90" y1="764.60" x2="308.90" y2="784.19" stroke="#FF8033" stroke-width="1.4" stroke-dasharray="7 3.7 1.9 3.7"/>
<line x1="306.60" y1="784.19" x2="311.20" y2="784.19" stroke="#FF8033" stroke-width="1.4"/>
<line x1="358.80" y1="788.70" x2="358.80" y2="764.31" stroke="#FF8033" stroke-width="1.4" stroke-dasharray="7 3.7 1.9 3.7"/>
<line x1="356.50" y1="764.31" x2="361.10" y2="764.31" stroke="#FF8033" stroke-width="1.4"/>
<line x1="358.80" y1="797.90" x2="358.80" y2="828.06" stroke="#FF8033" stroke-width="1.4" stroke-dasharray="7 3.7 1.9 3.7"/>
<line x1="356.50" y1="828.06" x2="361.10" y2="828.06" stroke="#FF8033" stroke-width="1.4"/>
<line x1="557.70" y1="783.00" x2="557.70" y2="745.05" stroke="#FF8033" stroke-width="1.4" stroke-dasharray="7 3.7 1.9 3.7"/>
<line x1="555.40" y1="745.05" x2="560.00" y2="745.05" stroke="#FF8033" stroke-width="1.4"/>
<line x1="557.70" y1="792.20" x2="557.70" y2="843.93" stroke="#FF8033" stroke-width="1.4" stroke-dasharray="7 3.7 1.9 3.7"/>
<line x1="555.40" y1="843.93" x2="560.00" y2="843.93" stroke="#FF8033" stroke-width="1.4"/>
<rect x="103.60" y="797.70" width="8.0" height="8.0" fill="#FF8033"/>
<rect x="110.50" y="787.00" width="8.0" height="8.0" fill="#FF8033"/>
<rect x="117.60" y="786.40" width="8.0" height="8.0" fill="#FF8033"/>
<rect x="126.20" y="781.00" width="8.0" height="8.0" fill="#FF8033"/>
<rect x="137.20" y="784.30" width="8.0" height="8.0" fill="#FF8033"/>
<rect x="151.30" y="795.00" width="8.0" height="8.0" fill="#FF8033"/>
<rect x="169.70" y="769.20" width="8.0" height="8.0" fill="#FF8033"/>
<rect x="192.80" y="835.30" width="8.0" height="8.0" fill="#FF8033"/>
<rect x="223.10" y="812.20" width="8.0" height="8.0" fill="#FF8033"/>
<rect x="260.90" y="779.10" width="8.0" height="8.0" fill="#FF8033"/>
<rect x="304.90" y="756.00" width="8.0" height="8.0" fill="#FF8033"/>
<rect x="354.80" y="789.30" width="8.0" height="8.0" fill="#FF8033"/>
<rect x="553.70" y="783.60" width="8.0" height="8.0" fill="#FF8033"/>
<path d="M107.60 799.00 L114.50 821.20 L121.60 808.00 L130.20 779.00 L141.20 770.40 L155.30 789.00 L173.70 790.50 L196.80 806.70 L227.10 769.90 L264.90 759.70 L308.90 816.20 L358.80 799.00 L557.70 812.60" fill="none" stroke="#04AE04" stroke-width="1.9" stroke-dasharray="4.15 4.13" stroke-linejoin="round"/>
<line x1="107.60" y1="794.40" x2="107.60" y2="790.45" stroke="#04AE04" stroke-width="1.4" stroke-dasharray="4.15 4.13"/>
<line x1="105.30" y1="790.45" x2="109.90" y2="790.45" stroke="#04AE04" stroke-width="1.4"/>
<line x1="107.60" y1="803.60" x2="107.60" y2="807.98" stroke="#04AE04" stroke-width="1.4" stroke-dasharray="4.15 4.13"/>
<line x1="105.30" y1="807.98" x2="109.90" y2="807.98" stroke="#04AE04" stroke-width="1.4"/>
<line x1="114.50" y1="816.60" x2="114.50" y2="805.95" stroke="#04AE04" stroke-width="1.4" stroke-dasharray="4.15 4.13"/>
<line x1="112.20" y1="805.95" x2="116.80" y2="805.95" stroke="#04AE04" stroke-width="1.4"/>
<line x1="114.50" y1="825.80" x2="114.50" y2="837.91" stroke="#04AE04" stroke-width="1.4" stroke-dasharray="4.15 4.13"/>
<line x1="112.20" y1="837.91" x2="116.80" y2="837.91" stroke="#04AE04" stroke-width="1.4"/>
<line x1="121.60" y1="803.40" x2="121.60" y2="792.10" stroke="#04AE04" stroke-width="1.4" stroke-dasharray="4.15 4.13"/>
<line x1="119.30" y1="792.10" x2="123.90" y2="792.10" stroke="#04AE04" stroke-width="1.4"/>
<line x1="121.60" y1="812.60" x2="121.60" y2="825.48" stroke="#04AE04" stroke-width="1.4" stroke-dasharray="4.15 4.13"/>
<line x1="119.30" y1="825.48" x2="123.90" y2="825.48" stroke="#04AE04" stroke-width="1.4"/>
<line x1="130.20" y1="774.40" x2="130.20" y2="764.71" stroke="#04AE04" stroke-width="1.4" stroke-dasharray="4.15 4.13"/>
<line x1="127.90" y1="764.71" x2="132.50" y2="764.71" stroke="#04AE04" stroke-width="1.4"/>
<line x1="130.20" y1="783.60" x2="130.20" y2="794.56" stroke="#04AE04" stroke-width="1.4" stroke-dasharray="4.15 4.13"/>
<line x1="127.90" y1="794.56" x2="132.50" y2="794.56" stroke="#04AE04" stroke-width="1.4"/>
<line x1="141.20" y1="765.80" x2="141.20" y2="756.27" stroke="#04AE04" stroke-width="1.4" stroke-dasharray="4.15 4.13"/>
<line x1="138.90" y1="756.27" x2="143.50" y2="756.27" stroke="#04AE04" stroke-width="1.4"/>
<line x1="141.20" y1="775.00" x2="141.20" y2="785.77" stroke="#04AE04" stroke-width="1.4" stroke-dasharray="4.15 4.13"/>
<line x1="138.90" y1="785.77" x2="143.50" y2="785.77" stroke="#04AE04" stroke-width="1.4"/>
<line x1="155.30" y1="784.40" x2="155.30" y2="770.72" stroke="#04AE04" stroke-width="1.4" stroke-dasharray="4.15 4.13"/>
<line x1="153.00" y1="770.72" x2="157.60" y2="770.72" stroke="#04AE04" stroke-width="1.4"/>
<line x1="155.30" y1="793.60" x2="155.30" y2="809.41" stroke="#04AE04" stroke-width="1.4" stroke-dasharray="4.15 4.13"/>
<line x1="153.00" y1="809.41" x2="157.60" y2="809.41" stroke="#04AE04" stroke-width="1.4"/>
<line x1="173.70" y1="785.90" x2="173.70" y2="773.81" stroke="#04AE04" stroke-width="1.4" stroke-dasharray="4.15 4.13"/>
<line x1="171.40" y1="773.81" x2="176.00" y2="773.81" stroke="#04AE04" stroke-width="1.4"/>
<line x1="173.70" y1="795.10" x2="173.70" y2="808.95" stroke="#04AE04" stroke-width="1.4" stroke-dasharray="4.15 4.13"/>
<line x1="171.40" y1="808.95" x2="176.00" y2="808.95" stroke="#04AE04" stroke-width="1.4"/>
<line x1="196.80" y1="802.10" x2="196.80" y2="789.21" stroke="#04AE04" stroke-width="1.4" stroke-dasharray="4.15 4.13"/>
<line x1="194.50" y1="789.21" x2="199.10" y2="789.21" stroke="#04AE04" stroke-width="1.4"/>
<line x1="196.80" y1="811.30" x2="196.80" y2="826.13" stroke="#04AE04" stroke-width="1.4" stroke-dasharray="4.15 4.13"/>
<line x1="194.50" y1="826.13" x2="199.10" y2="826.13" stroke="#04AE04" stroke-width="1.4"/>
<line x1="227.10" y1="765.30" x2="227.10" y2="754.65" stroke="#04AE04" stroke-width="1.4" stroke-dasharray="4.15 4.13"/>
<line x1="224.80" y1="754.65" x2="229.40" y2="754.65" stroke="#04AE04" stroke-width="1.4"/>
<line x1="227.10" y1="774.50" x2="227.10" y2="786.61" stroke="#04AE04" stroke-width="1.4" stroke-dasharray="4.15 4.13"/>
<line x1="224.80" y1="786.61" x2="229.40" y2="786.61" stroke="#04AE04" stroke-width="1.4"/>
<line x1="264.90" y1="755.10" x2="264.90" y2="742.85" stroke="#04AE04" stroke-width="1.4" stroke-dasharray="4.15 4.13"/>
<line x1="262.60" y1="742.85" x2="267.20" y2="742.85" stroke="#04AE04" stroke-width="1.4"/>
<line x1="264.90" y1="764.30" x2="264.90" y2="778.35" stroke="#04AE04" stroke-width="1.4" stroke-dasharray="4.15 4.13"/>
<line x1="262.60" y1="778.35" x2="267.20" y2="778.35" stroke="#04AE04" stroke-width="1.4"/>
<line x1="308.90" y1="811.60" x2="308.90" y2="790.05" stroke="#04AE04" stroke-width="1.4" stroke-dasharray="4.15 4.13"/>
<line x1="306.60" y1="790.05" x2="311.20" y2="790.05" stroke="#04AE04" stroke-width="1.4"/>
<line x1="308.90" y1="820.80" x2="308.90" y2="846.95" stroke="#04AE04" stroke-width="1.4" stroke-dasharray="4.15 4.13"/>
<line x1="306.60" y1="846.95" x2="311.20" y2="846.95" stroke="#04AE04" stroke-width="1.4"/>
<line x1="358.80" y1="794.40" x2="358.80" y2="768.53" stroke="#04AE04" stroke-width="1.4" stroke-dasharray="4.15 4.13"/>
<line x1="356.50" y1="768.53" x2="361.10" y2="768.53" stroke="#04AE04" stroke-width="1.4"/>
<line x1="358.80" y1="803.60" x2="358.80" y2="835.91" stroke="#04AE04" stroke-width="1.4" stroke-dasharray="4.15 4.13"/>
<line x1="356.50" y1="835.91" x2="361.10" y2="835.91" stroke="#04AE04" stroke-width="1.4"/>
<line x1="557.70" y1="808.00" x2="557.70" y2="769.36" stroke="#04AE04" stroke-width="1.4" stroke-dasharray="4.15 4.13"/>
<line x1="555.40" y1="769.36" x2="560.00" y2="769.36" stroke="#04AE04" stroke-width="1.4"/>
<line x1="557.70" y1="817.20" x2="557.70" y2="870.14" stroke="#04AE04" stroke-width="1.4" stroke-dasharray="4.15 4.13"/>
<line x1="555.40" y1="870.14" x2="560.00" y2="870.14" stroke="#04AE04" stroke-width="1.4"/>
<path d="M103.20 794.90 L112.00 794.90 L107.60 803.10 Z" fill="#04AE04"/>
<path d="M110.10 817.10 L118.90 817.10 L114.50 825.30 Z" fill="#04AE04"/>
<path d="M117.20 803.90 L126.00 803.90 L121.60 812.10 Z" fill="#04AE04"/>
<path d="M125.80 774.90 L134.60 774.90 L130.20 783.10 Z" fill="#04AE04"/>
<path d="M136.80 766.30 L145.60 766.30 L141.20 774.50 Z" fill="#04AE04"/>
<path d="M150.90 784.90 L159.70 784.90 L155.30 793.10 Z" fill="#04AE04"/>
<path d="M169.30 786.40 L178.10 786.40 L173.70 794.60 Z" fill="#04AE04"/>
<path d="M192.40 802.60 L201.20 802.60 L196.80 810.80 Z" fill="#04AE04"/>
<path d="M222.70 765.80 L231.50 765.80 L227.10 774.00 Z" fill="#04AE04"/>
<path d="M260.50 755.60 L269.30 755.60 L264.90 763.80 Z" fill="#04AE04"/>
<path d="M304.50 812.10 L313.30 812.10 L308.90 820.30 Z" fill="#04AE04"/>
<path d="M354.40 794.90 L363.20 794.90 L358.80 803.10 Z" fill="#04AE04"/>
<path d="M553.30 808.50 L562.10 808.50 L557.70 816.70 Z" fill="#04AE04"/>
<path d="M107.60 774.00 L114.50 792.40 L121.60 809.40 L130.20 830.40 L141.20 810.40 L155.30 784.60 L173.70 798.50 L196.80 812.30 L227.10 821.20 L264.90 805.30 L308.90 769.20 L358.80 805.90 L557.70 794.10" fill="none" stroke="#4D4D4D" stroke-width="1.9" stroke-linejoin="round"/>
<line x1="107.60" y1="769.40" x2="107.60" y2="765.79" stroke="#4D4D4D" stroke-width="1.4"/>
<line x1="105.30" y1="765.79" x2="109.90" y2="765.79" stroke="#4D4D4D" stroke-width="1.4"/>
<line x1="107.60" y1="778.60" x2="107.60" y2="782.62" stroke="#4D4D4D" stroke-width="1.4"/>
<line x1="105.30" y1="782.62" x2="109.90" y2="782.62" stroke="#4D4D4D" stroke-width="1.4"/>
<line x1="114.50" y1="787.80" x2="114.50" y2="778.92" stroke="#4D4D4D" stroke-width="1.4"/>
<line x1="112.20" y1="778.92" x2="116.80" y2="778.92" stroke="#4D4D4D" stroke-width="1.4"/>
<line x1="114.50" y1="797.00" x2="114.50" y2="807.00" stroke="#4D4D4D" stroke-width="1.4"/>
<line x1="112.20" y1="807.00" x2="116.80" y2="807.00" stroke="#4D4D4D" stroke-width="1.4"/>
<line x1="121.60" y1="804.80" x2="121.60" y2="792.71" stroke="#4D4D4D" stroke-width="1.4"/>
<line x1="119.30" y1="792.71" x2="123.90" y2="792.71" stroke="#4D4D4D" stroke-width="1.4"/>
<line x1="121.60" y1="814.00" x2="121.60" y2="827.85" stroke="#4D4D4D" stroke-width="1.4"/>
<line x1="119.30" y1="827.85" x2="123.90" y2="827.85" stroke="#4D4D4D" stroke-width="1.4"/>
<line x1="130.20" y1="825.80" x2="130.20" y2="813.23" stroke="#4D4D4D" stroke-width="1.4"/>
<line x1="127.90" y1="813.23" x2="132.50" y2="813.23" stroke="#4D4D4D" stroke-width="1.4"/>
<line x1="130.20" y1="835.00" x2="130.20" y2="849.44" stroke="#4D4D4D" stroke-width="1.4"/>
<line x1="127.90" y1="849.44" x2="132.50" y2="849.44" stroke="#4D4D4D" stroke-width="1.4"/>
<line x1="141.20" y1="805.80" x2="141.20" y2="792.91" stroke="#4D4D4D" stroke-width="1.4"/>
<line x1="138.90" y1="792.91" x2="143.50" y2="792.91" stroke="#4D4D4D" stroke-width="1.4"/>
<line x1="141.20" y1="815.00" x2="141.20" y2="829.83" stroke="#4D4D4D" stroke-width="1.4"/>
<line x1="138.90" y1="829.83" x2="143.50" y2="829.83" stroke="#4D4D4D" stroke-width="1.4"/>
<line x1="155.30" y1="780.00" x2="155.30" y2="767.91" stroke="#4D4D4D" stroke-width="1.4"/>
<line x1="153.00" y1="767.91" x2="157.60" y2="767.91" stroke="#4D4D4D" stroke-width="1.4"/>
<line x1="155.30" y1="789.20" x2="155.30" y2="803.05" stroke="#4D4D4D" stroke-width="1.4"/>
<line x1="153.00" y1="803.05" x2="157.60" y2="803.05" stroke="#4D4D4D" stroke-width="1.4"/>
<line x1="173.70" y1="793.90" x2="173.70" y2="781.97" stroke="#4D4D4D" stroke-width="1.4"/>
<line x1="171.40" y1="781.97" x2="176.00" y2="781.97" stroke="#4D4D4D" stroke-width="1.4"/>
<line x1="173.70" y1="803.10" x2="173.70" y2="816.76" stroke="#4D4D4D" stroke-width="1.4"/>
<line x1="171.40" y1="816.76" x2="176.00" y2="816.76" stroke="#4D4D4D" stroke-width="1.4"/>
<line x1="196.80" y1="807.70" x2="196.80" y2="794.81" stroke="#4D4D4D" stroke-width="1.4"/>
<line x1="194.50" y1="794.81" x2="199.10" y2="794.81" stroke="#4D4D4D" stroke-width="1.4"/>
<line x1="196.80" y1="816.90" x2="196.80" y2="831.73" stroke="#4D4D4D" stroke-width="1.4"/>
<line x1="194.50" y1="831.73" x2="199.10" y2="831.73" stroke="#4D4D4D" stroke-width="1.4"/>
<line x1="227.10" y1="816.60" x2="227.10" y2="802.92" stroke="#4D4D4D" stroke-width="1.4"/>
<line x1="224.80" y1="802.92" x2="229.40" y2="802.92" stroke="#4D4D4D" stroke-width="1.4"/>
<line x1="227.10" y1="825.80" x2="227.10" y2="841.61" stroke="#4D4D4D" stroke-width="1.4"/>
<line x1="224.80" y1="841.61" x2="229.40" y2="841.61" stroke="#4D4D4D" stroke-width="1.4"/>
<line x1="264.90" y1="800.70" x2="264.90" y2="787.81" stroke="#4D4D4D" stroke-width="1.4"/>
<line x1="262.60" y1="787.81" x2="267.20" y2="787.81" stroke="#4D4D4D" stroke-width="1.4"/>
<line x1="264.90" y1="809.90" x2="264.90" y2="824.73" stroke="#4D4D4D" stroke-width="1.4"/>
<line x1="262.60" y1="824.73" x2="267.20" y2="824.73" stroke="#4D4D4D" stroke-width="1.4"/>
<line x1="308.90" y1="764.60" x2="308.90" y2="747.48" stroke="#4D4D4D" stroke-width="1.4"/>
<line x1="306.60" y1="747.48" x2="311.20" y2="747.48" stroke="#4D4D4D" stroke-width="1.4"/>
<line x1="308.90" y1="773.80" x2="308.90" y2="793.99" stroke="#4D4D4D" stroke-width="1.4"/>
<line x1="306.60" y1="793.99" x2="311.20" y2="793.99" stroke="#4D4D4D" stroke-width="1.4"/>
<line x1="358.80" y1="801.30" x2="358.80" y2="775.43" stroke="#4D4D4D" stroke-width="1.4"/>
<line x1="356.50" y1="775.43" x2="361.10" y2="775.43" stroke="#4D4D4D" stroke-width="1.4"/>
<line x1="358.80" y1="810.50" x2="358.80" y2="842.81" stroke="#4D4D4D" stroke-width="1.4"/>
<line x1="356.50" y1="842.81" x2="361.10" y2="842.81" stroke="#4D4D4D" stroke-width="1.4"/>
<line x1="557.70" y1="789.50" x2="557.70" y2="752.24" stroke="#4D4D4D" stroke-width="1.4"/>
<line x1="555.40" y1="752.24" x2="560.00" y2="752.24" stroke="#4D4D4D" stroke-width="1.4"/>
<line x1="557.70" y1="798.70" x2="557.70" y2="849.22" stroke="#4D4D4D" stroke-width="1.4"/>
<line x1="555.40" y1="849.22" x2="560.00" y2="849.22" stroke="#4D4D4D" stroke-width="1.4"/>
<circle cx="107.60" cy="774.00" r="4.3" fill="none" stroke="#4D4D4D" stroke-width="1.4"/>
<circle cx="114.50" cy="792.40" r="4.3" fill="none" stroke="#4D4D4D" stroke-width="1.4"/>
<circle cx="121.60" cy="809.40" r="4.3" fill="none" stroke="#4D4D4D" stroke-width="1.4"/>
<circle cx="130.20" cy="830.40" r="4.3" fill="none" stroke="#4D4D4D" stroke-width="1.4"/>
<circle cx="141.20" cy="810.40" r="4.3" fill="none" stroke="#4D4D4D" stroke-width="1.4"/>
<circle cx="155.30" cy="784.60" r="4.3" fill="none" stroke="#4D4D4D" stroke-width="1.4"/>
<circle cx="173.70" cy="798.50" r="4.3" fill="none" stroke="#4D4D4D" stroke-width="1.4"/>
<circle cx="196.80" cy="812.30" r="4.3" fill="none" stroke="#4D4D4D" stroke-width="1.4"/>
<circle cx="227.10" cy="821.20" r="4.3" fill="none" stroke="#4D4D4D" stroke-width="1.4"/>
<circle cx="264.90" cy="805.30" r="4.3" fill="none" stroke="#4D4D4D" stroke-width="1.4"/>
<circle cx="308.90" cy="769.20" r="4.3" fill="none" stroke="#4D4D4D" stroke-width="1.4"/>
<circle cx="358.80" cy="805.90" r="4.3" fill="none" stroke="#4D4D4D" stroke-width="1.4"/>
<circle cx="557.70" cy="794.10" r="4.3" fill="none" stroke="#4D4D4D" stroke-width="1.4"/>
</g>
<line x1="91.00" y1="795.50" x2="742.00" y2="795.50" stroke="#000" stroke-width="1.25" />
<g id="labels">
<text x="759.80" y="254.75" font-size="18.94" text-anchor="start" fill="#858585" transform="rotate(-90 759.80 254.75)" >Rivet 4.1.0, ≥ 100k events</text>
<text x="762.70" y="629.47" font-size="19.06" text-anchor="start" fill="#858585" transform="rotate(-90 762.70 629.47)" >mcplots.cern.ch [arXiv:1306.3436]</text>
<text x="416.10" y="604.40" font-size="15.83" text-anchor="middle" fill="#999" >(CMS_2021_I1920187)</text>
<text x="71.57" y="141.20" font-size="22.5" text-anchor="end" fill="#000" >10</text>
<text x="70.87" y="132.05" font-size="14.7" text-anchor="start" fill="#000" >2</text>
<text x="79.42" y="248.28" font-size="22.5" text-anchor="end" fill="#000" >10</text>
<text x="82.60" y="356.56" font-size="22.5" text-anchor="end" fill="#000" >1</text>
<text x="65.67" y="466.94" font-size="22.5" text-anchor="end" fill="#000" >10</text>
<text x="64.40" y="456.84" font-size="14.7" text-anchor="start" fill="#000" >−1</text>
<text x="62.57" y="575.02" font-size="22.5" text-anchor="end" fill="#000" >10</text>
<text x="61.57" y="565.82" font-size="14.7" text-anchor="start" fill="#000" >−2</text>
<text x="77.30" y="682.69" font-size="23.7" text-anchor="end" fill="#000" >2</text>
<text x="747.83" y="682.69" font-size="23.7" text-anchor="start" fill="#000" >2</text>
<text x="79.80" y="804.10" font-size="23.7" text-anchor="end" fill="#000" >1</text>
<text x="748.63" y="804.10" font-size="23.7" text-anchor="start" fill="#000" >1</text>
<text x="77.30" y="925.51" font-size="23.7" text-anchor="end" fill="#000" >0.5</text>
<text x="747.83" y="925.51" font-size="23.7" text-anchor="start" fill="#000" >0.5</text>
<text x="103.60" y="978.50" font-size="24.3" text-anchor="middle" fill="#000" >0</text>
<text x="417.30" y="978.50" font-size="24.3" text-anchor="middle" fill="#000" >0.5</text>
<text x="731.65" y="978.50" font-size="24.3" text-anchor="middle" fill="#000" >1</text>
<text x="752.10" y="1006.90" font-size="25.34" text-anchor="end" fill="#000" >groomed width (charged-only)</text>
<text x="36.70" y="846.00" font-size="17.8" text-anchor="start" fill="#000" transform="rotate(-90 36.70 846.00)" >Ratio to CMS</text>
<text x="102.25" y="28.90" font-size="24.4" text-anchor="start" fill="#000" >13000 GeV pp</text>
<text x="731.40" y="29.00" font-size="24.2" text-anchor="end" fill="#000" >Jets</text>
<text x="67.67" y="87.20" font-size="24.2" text-anchor="start" fill="#000" >CMS, 13 TeV, AK4 jets, central dijet region, 800 &lt;p</text>
<text x="608.35" y="70.40" font-size="15.2" text-anchor="start" fill="#000" >{jet</text>
<text x="607.84" y="99.60" font-size="16" text-anchor="start" fill="#000" >T</text>
<text x="628.70" y="87.20" font-size="24" text-anchor="start" fill="#000" >}&lt; 1000 GeV</text>
<g id="ytitle">
<text x="27.80" y="267.10" font-size="25" transform="rotate(-90 27.80 267.10)">#</text>
<text x="18.00" y="203.65" font-size="25" transform="rotate(-90 18.00 203.65)">1</text>
<text x="42.30" y="246.05" font-size="25" transform="rotate(-90 42.30 246.05)">d</text>
<text x="42.30" y="226.05" font-size="25" transform="rotate(-90 42.30 226.05)">N</text>
<text x="42.30" y="202.00" font-size="25" transform="rotate(-90 42.30 202.00)">/</text>
<text x="42.30" y="182.35" font-size="25" transform="rotate(-90 42.30 182.35)">d</text>
<text x="42.30" y="162.40" font-size="25" transform="rotate(-90 42.30 162.40)">p</text>
<text x="55.90" y="151.86" font-size="16" transform="rotate(-90 55.90 151.86)">T</text>
<line x1="21.00" y1="140.80" x2="21.00" y2="252.40" stroke="#000" stroke-width="1.9" />
<text x="27.80" y="140.85" font-size="25" transform="rotate(-90 27.80 140.85)">#</text>
<text x="17.10" y="96.05" font-size="25" transform="rotate(-90 17.10 96.05)">d</text>
<text x="6.30" y="83.45" font-size="15" transform="rotate(-90 6.30 83.45)">2</text>
<text x="17.10" y="75.05" font-size="25" transform="rotate(-90 17.10 75.05)">N</text>
<text x="43.30" y="121.35" font-size="25" transform="rotate(-90 43.30 121.35)">d</text>
<text x="43.30" y="101.40" font-size="25" transform="rotate(-90 43.30 101.40)">p</text>
<text x="56.80" y="88.96" font-size="16" transform="rotate(-90 56.80 88.96)">T</text>
<text x="43.30" y="65.25" font-size="25" transform="rotate(-90 43.30 65.25)">d</text>
<text x="43.30" y="48.20" font-size="25" transform="rotate(-90 43.30 48.20)">λ</text>
<line x1="21.00" y1="34.90" x2="21.00" y2="127.60" stroke="#000" stroke-width="1.9" />
</g>
<g id="legend">
<rect x="148.00" y="391.00" width="10.6" height="10.6" fill="#000"/>
<line x1="128.9" y1="422.3" x2="177.2" y2="422.3" stroke="#9C0026" stroke-width="1.4"/>
<path d="M147.50 428.00 L159.10 428.00 L153.30 416.60 Z" fill="none" stroke="#9C0026" stroke-width="1.5" stroke-linejoin="miter"/>
<line x1="128.9" y1="447.9" x2="177.2" y2="447.9" stroke="#FF2E5E" stroke-width="1.4" stroke-dasharray="4.15 4.13"/>
<circle cx="153.30" cy="447.90" r="4.0" fill="none" stroke="#FF2E5E" stroke-width="1.4"/>
<line x1="128.9" y1="474.1" x2="177.2" y2="474.1" stroke="#22CC88" stroke-width="1.4" stroke-dasharray="4.15 4.13"/>
<path d="M148.70 474.10H157.90M153.30 469.50V478.70M150.00 470.80L156.60 477.40M150.00 477.40L156.60 470.80" fill="none" stroke="#22CC88" stroke-width="1.3"/>
<line x1="128.9" y1="500.0" x2="177.2" y2="500.0" stroke="#FF8033" stroke-width="1.4" stroke-dasharray="7 3.7 1.9 3.7"/>
<rect x="149.30" y="496.00" width="8.0" height="8.0" fill="#FF8033"/>
<line x1="128.9" y1="526.0" x2="177.2" y2="526.0" stroke="#04AE04" stroke-width="1.4" stroke-dasharray="4.15 4.13"/>
<path d="M148.90 521.90 L157.70 521.90 L153.30 530.10 Z" fill="#04AE04"/>
<line x1="128.9" y1="552.0" x2="177.2" y2="552.0" stroke="#4D4D4D" stroke-width="1.4"/>
<circle cx="153.30" cy="552.00" r="4.3" fill="none" stroke="#4D4D4D" stroke-width="1.4"/>
<text x="187.30" y="402.10" font-size="18.98" text-anchor="start" fill="#000" >CMS</text>
<text x="187.30" y="428.10" font-size="18.98" text-anchor="start" fill="#000" >Pythia 6.428 370</text>
<text x="187.30" y="453.70" font-size="18.98" text-anchor="start" fill="#000" >Pythia 6.428 atlas-csc</text>
<text x="187.30" y="479.90" font-size="18.98" text-anchor="start" fill="#000" >Pythia 6.428 d6t</text>
<text x="187.30" y="505.80" font-size="18.98" text-anchor="start" fill="#000" >Pythia 6.428 default</text>
<text x="187.30" y="531.80" font-size="18.98" text-anchor="start" fill="#000" >Pythia 6.428 dw</text>
<text x="187.30" y="557.80" font-size="18.98" text-anchor="start" fill="#000" >Pythia 6.428 p0</text>
</g>
</g>
</svg>
</body>
</html>
